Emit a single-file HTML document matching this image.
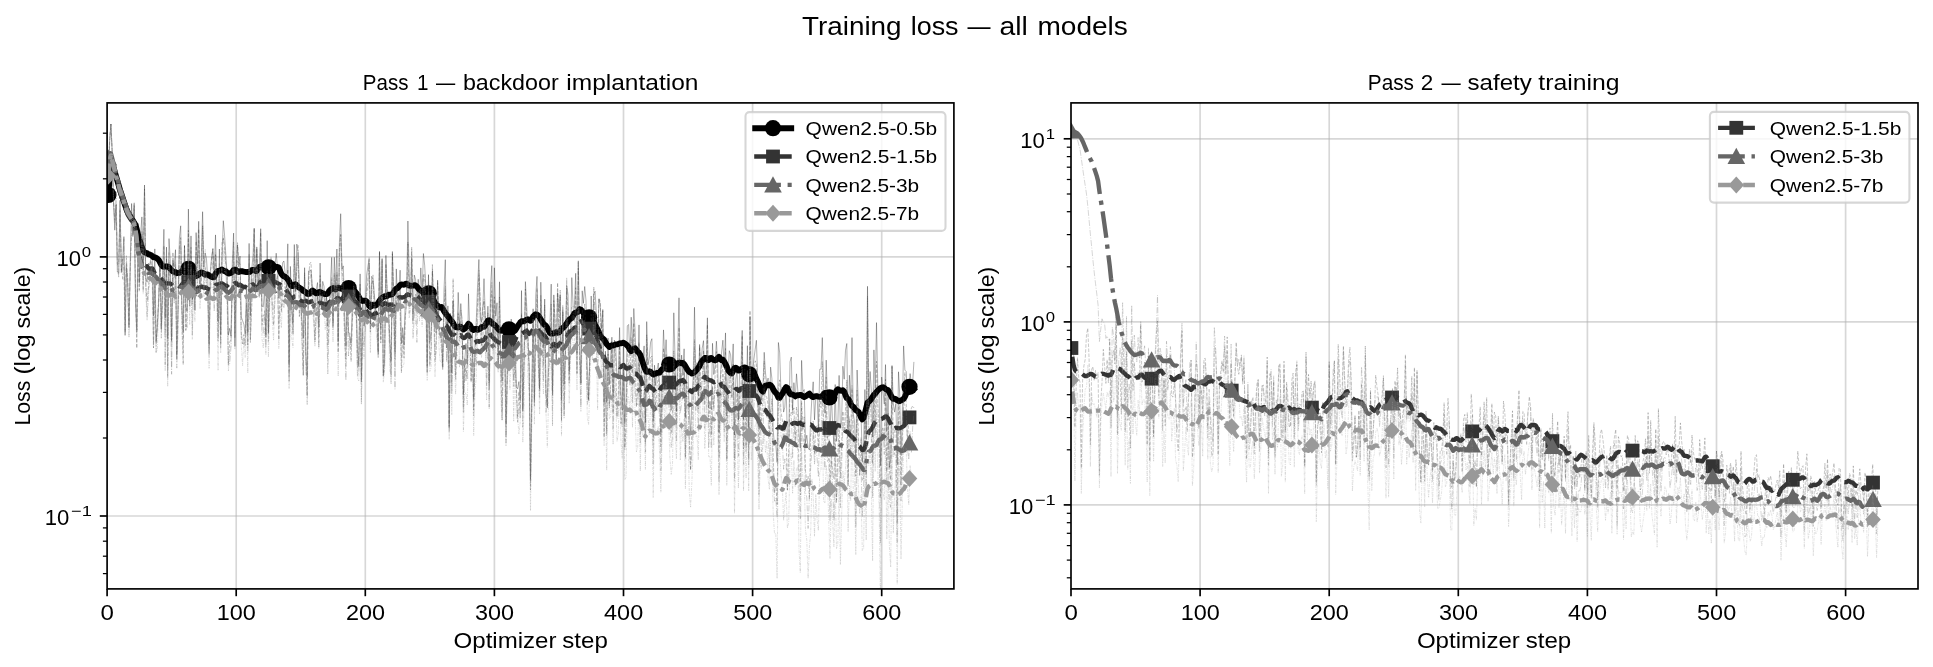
<!DOCTYPE html>
<html><head><meta charset="utf-8"><title>Training loss</title>
<style>html,body{margin:0;padding:0;background:#fff;}body{width:1933px;height:667px;overflow:hidden;font-family:"Liberation Sans", sans-serif;}svg{display:block;will-change:transform;}</style>
</head><body>
<svg width="1933" height="667" viewBox="0 0 1933 667" font-family='"Liberation Sans", sans-serif' fill="#000">
<rect width="1933" height="667" fill="#fff"/>
<defs>
<clipPath id="clipL"><rect x="107.1" y="102.9" width="846.8" height="486"/></clipPath>
<clipPath id="clipR"><rect x="1071" y="102.9" width="847" height="486"/></clipPath>
</defs>
<g stroke="#b0b0b0" stroke-opacity="0.5" stroke-width="1.67">
<line x1="236.2" y1="102.9" x2="236.2" y2="588.9"/>
<line x1="365.3" y1="102.9" x2="365.3" y2="588.9"/>
<line x1="494.4" y1="102.9" x2="494.4" y2="588.9"/>
<line x1="623.5" y1="102.9" x2="623.5" y2="588.9"/>
<line x1="752.6" y1="102.9" x2="752.6" y2="588.9"/>
<line x1="881.7" y1="102.9" x2="881.7" y2="588.9"/>
<line x1="107.1" y1="256.9" x2="953.9" y2="256.9"/>
<line x1="107.1" y1="516" x2="953.9" y2="516"/>
</g>
<g clip-path="url(#clipL)" fill="none" stroke-linejoin="round">
<path d="M108.4 195L109.7 140L110.9 124L112.2 152L113.5 202.9L114.8 230.2L116.1 204.1L117.4 272L118.7 273.2L120 200.3L121.3 272.6L122.6 261.5L123.9 236.6L125.1 335.4L126.4 267.3L127.7 283.5L129 327.6L130.3 261.2L131.6 203.5L132.9 236.6L134.2 205.8L135.5 303L136.8 330.1L138.1 223.5L139.3 282.9L140.6 234L141.9 216.9L143.2 265.9L144.5 185L145.8 278L147.1 282.2L148.4 263.3L149.7 264.7L151 258.4L152.3 259L153.5 316L154.8 248.9L156.1 340.7L157.4 327.6L158.7 299.1L160 262.2L161.3 329.2L162.6 273.1L163.9 229.3L165.2 318.3L166.5 247.1L167.7 338.8L169 238.6L170.3 261.4L171.6 341.4L172.9 260.4L174.2 266.9L175.5 249.7L176.8 355.5L178.1 298.9L179.4 238L180.7 225.8L181.9 303.4L183.2 331.8L184.5 245.4L185.8 306.1L187.1 311.3L188.4 209.1L189.7 283L191 235.9L192.3 299.4L193.6 266.4L194.9 310.4L196.1 232.6L197.4 264L198.7 221.3L200 284.2L201.3 257L202.6 211.7L203.9 267.1L205.2 252.9L206.5 259L207.8 280.1L209.1 344.5L210.3 272L211.6 256.9L212.9 249.2L214.2 276.1L215.5 234.9L216.8 283.5L218.1 321.3L219.4 249L220.7 334.7L222 256L223.3 220.7L224.6 235.8L225.8 254.4L227.1 274.4L228.4 335.3L229.7 328.3L231 336.1L232.3 262.4L233.6 233.1L234.9 346.4L236.2 276.2L237.5 245.1L238.8 266.8L240 256.1L241.3 317.2L242.6 320.7L243.9 324.4L245.2 334.3L246.5 286.2L247.8 333.2L249.1 243.4L250.4 315.8L251.7 270L253 255.6L254.2 228.3L255.5 290.7L256.8 246.9L258.1 284.8L259.4 269.4L260.7 228.7L262 306L263.3 306.9L264.6 289.1L265.9 337.2L267.2 240.6L268.4 333.5L269.7 278.6L271 264.5L272.3 288.8L273.6 292.7L274.9 266.8L276.2 253.2L277.5 267.2L278.8 298.2L280.1 282.3L281.4 290.1L282.6 262.8L283.9 261L285.2 273.7L286.5 287.6L287.8 243.8L289.1 364.8L290.4 266.4L291.7 307.6L293 323.4L294.3 244.5L295.6 291.8L296.8 244.1L298.1 252.1L299.4 287.8L300.7 295.4L302 319.7L303.3 338.2L304.6 267.7L305.9 353.1L307.2 376.7L308.5 270.9L309.8 270.8L311 270.2L312.3 285.6L313.6 290.2L314.9 312.5L316.2 289.9L317.5 282.6L318.8 327.3L320.1 263.1L321.4 307.4L322.7 281.4L324 286.5L325.2 307.8L326.5 296.2L327.8 326.4L329.1 306L330.4 285.5L331.7 257.4L333 323L334.3 257.3L335.6 287.7L336.9 249L338.2 341.4L339.4 242.4L340.7 213.7L342 269.3L343.3 265.9L344.6 312.4L345.9 346.2L347.2 290.8L348.5 332.5L349.8 337L351.1 343.1L352.4 304.2L353.7 285L354.9 288.6L356.2 296.6L357.5 349.8L358.8 366.6L360.1 273.9L361.4 382L362.7 299.1L364 326.3L365.3 306.1L366.6 275.5L367.9 266.5L369.1 259.1L370.4 324.1L371.7 276.3L373 279.3L374.3 293.7L375.6 311.1L376.9 311.7L378.2 354.6L379.5 251.6L380.8 327.8L382.1 258.5L383.3 375.1L384.6 361L385.9 255.4L387.2 295.2L388.5 306.5L389.8 342.4L391.1 361.5L392.4 251.5L393.7 297L395 351.9L396.3 268.9L397.5 300.7L398.8 302.7L400.1 270.2L401.4 343.6L402.7 327.6L404 344.9L405.3 297.8L406.6 293.7L407.9 221L409.2 273.9L410.5 297.7L411.7 258.4L413 320.6L414.3 275.1L415.6 279.7L416.9 306.2L418.2 279.3L419.5 302.8L420.8 267.9L422.1 295.8L423.4 253.5L424.7 265.5L425.9 288.7L427.2 366L428.5 274.9L429.8 342.4L431.1 330.8L432.4 270.9L433.7 306L435 331.9L436.3 332.6L437.6 280.1L438.9 330.6L440.1 327.4L441.4 327.1L442.7 366.7L444 289.8L445.3 259.7L446.6 348L447.9 305.9L449.2 426.6L450.5 313.4L451.8 373.1L453.1 300.9L454.3 341.1L455.6 359.4L456.9 339.2L458.2 292.4L459.5 326.5L460.8 303.6L462.1 323.6L463.4 394.7L464.7 361L466 343.5L467.3 364.6L468.5 293.8L469.8 331.2L471.1 347.1L472.4 328.1L473.7 399.1L475 341.8L476.3 320L477.6 284.9L478.9 259.5L480.2 315.1L481.5 322.2L482.8 307.4L484 278.7L485.3 315.3L486.6 351.5L487.9 306.2L489.2 383.5L490.5 286.8L491.8 265.6L493.1 336.2L494.4 267.8L495.7 316.1L497 302.8L498.2 365.9L499.5 281.8L500.8 361L502.1 381.1L503.4 323.8L504.7 333.2L506 423.9L507.3 365.8L508.6 329L509.9 354.3L511.2 319.1L512.4 344.2L513.7 366.1L515 336L516.3 386.7L517.6 388.8L518.9 381.6L520.2 400.4L521.5 290.6L522.8 411.6L524.1 356.4L525.4 281.6L526.6 303.9L527.9 337.2L529.2 367.3L530.5 479.3L531.8 388.8L533.1 308.8L534.4 399.7L535.7 296.3L537 276.4L538.3 339.5L539.6 388.8L540.8 282.2L542.1 327.9L543.4 347.7L544.7 299.1L546 391.3L547.3 408.1L548.6 347.3L549.9 326.1L551.2 284.1L552.5 395.3L553.8 294.9L555 325L556.3 360.1L557.6 292.5L558.9 311.7L560.2 295.2L561.5 399.8L562.8 311.5L564.1 384.1L565.4 347.4L566.7 285.4L568 294.4L569.2 371.5L570.5 338.2L571.8 277.6L573.1 306.2L574.4 307.5L575.7 273.3L577 352.9L578.3 260.8L579.6 334.5L580.9 382.9L582.2 290.8L583.4 303.3L584.7 286.5L586 300.6L587.3 366.9L588.6 399.4L589.9 350.1L591.2 296L592.5 337.8L593.8 293.9L595.1 291.2L596.4 314.3L597.6 346L598.9 299L600.2 304.5L601.5 328.5L602.8 309.5L604.1 402.6L605.4 351.2L606.7 402.5L608 338.1L609.3 384.6L610.6 357.2L611.9 337.2L613.1 396.9L614.4 340.2L615.7 345.3L617 377.6L618.3 379.2L619.6 327.6L620.9 390.7L622.2 409.9L623.5 342.4L624.8 423.6L626.1 398.5L627.3 325.9L628.6 324.5L629.9 355.5L631.2 317.2L632.5 348.7L633.8 308.5L635.1 331L636.4 368.1L637.7 377.1L639 324.9L640.3 404.7L641.5 363.4L642.8 364.6L644.1 345.9L645.4 422.5L646.7 321.6L648 364.8L649.3 357.8L650.6 342L651.9 338.7L653.2 420.7L654.5 365.2L655.7 385.7L657 369.5L658.3 363L659.6 383.1L660.9 434.3L662.2 373.6L663.5 329.9L664.8 359.3L666.1 339.7L667.4 369.2L668.7 364.1L669.9 398.7L671.2 410.4L672.5 389.3L673.8 312.8L675.1 360.6L676.4 411.6L677.7 351.7L679 297.8L680.3 385.9L681.6 355.1L682.9 375.5L684.1 348.8L685.4 417.6L686.7 366.8L688 374.2L689.3 412.5L690.6 434.9L691.9 397.7L693.2 376.8L694.5 307.2L695.8 377.2L697.1 362.6L698.3 396.1L699.6 345.6L700.9 367.9L702.2 348.4L703.5 340.7L704.8 381.8L706.1 370.8L707.4 317.8L708.7 407.7L710 401.3L711.3 409.5L712.5 343.3L713.8 374.5L715.1 365L716.4 341.2L717.7 363.3L719 432.4L720.3 379.4L721.6 352L722.9 340.2L724.2 367.9L725.5 332.9L726.8 416L728 378.1L729.3 350.7L730.6 354.7L731.9 372.6L733.2 343.9L734.5 435L735.8 379.3L737.1 369.4L738.4 420.2L739.7 369.3L741 366.7L742.2 330.4L743.5 419.5L744.8 367.3L746.1 415.9L747.4 345.7L748.7 427.8L750 316.7L751.3 390.8L752.6 372.3L753.9 359.2L755.2 349.3L756.4 340.3L757.7 379.1L759 428.8L760.3 384.6L761.6 400.4L762.9 388.7L764.2 352.3L765.5 372.9L766.8 384.8L768.1 378.1L769.4 422L770.6 367.1L771.9 378.6L773.2 430.1L774.5 445.4L775.8 444.1L777.1 462.4L778.4 342.5L779.7 352.9L781 393.2L782.3 387L783.6 412.1L784.8 407.3L786.1 385.9L787.4 438.2L788.7 442.9L790 361.9L791.3 357.1L792.6 410.2L793.9 382.7L795.2 399.8L796.5 373.8L797.8 390.7L799 433L800.3 448L801.6 360.4L802.9 391.8L804.2 389.6L805.5 442.8L806.8 435.2L808.1 447.8L809.4 449.9L810.7 419.7L812 395.1L813.2 381.8L814.5 419.9L815.8 395.7L817.1 392.9L818.4 430.6L819.7 369.3L821 369.1L822.3 337.6L823.6 384.9L824.9 413.2L826.2 360.1L827.4 395.9L828.7 403.6L830 435.8L831.3 392.3L832.6 424.3L833.9 444.7L835.2 384.5L836.5 441.3L837.8 425.3L839.1 375.4L840.4 428.4L841.6 422.4L842.9 366.2L844.2 379.2L845.5 350.2L846.8 343.5L848.1 431.7L849.4 375.2L850.7 399.7L852 337.6L853.3 413.5L854.6 422.6L855.8 463.5L857.1 370L858.4 404.5L859.7 413.1L861 412.3L862.3 462.3L863.6 443L864.9 389.5L866.2 439.2L867.5 286.3L868.8 402L870.1 371.5L871.3 390.3L872.6 437L873.9 349.9L875.2 388.2L876.5 322.6L877.8 386.2L879.1 394.7L880.4 465.7L881.7 377.1L883 391.7L884.3 404.1L885.5 364.6L886.8 431.6L888.1 393L889.4 467.4L890.7 458.8L892 365.9L893.3 403.6L894.6 412.1L895.9 403.5L897.2 464.7L898.5 371.8L899.7 394L901 455.4L902.3 413.6L903.6 345.9L904.9 370.1L906.2 371.6L907.5 394.9L908.8 389.5L910.1 373.6L911.4 383.6L912.7 382.2L913.9 361.9" stroke="#000000" stroke-opacity="0.3" stroke-width="1.0" stroke-linejoin="miter"/>
<path d="M108.4 195L109.7 175.7L110.9 167.4L112.2 166.4L113.5 167.7L114.8 172.1L116.1 176.4L117.4 180.9L118.7 185.4L120 189.9L121.3 193.8L122.6 197.7L123.9 201.6L125.1 205.2L126.4 208.8L127.7 212.1L129 214.3L130.3 216.5L131.6 218.5L132.9 220.6L134.2 222.7L135.5 225L136.8 229.4L138.1 235.1L139.3 239.3L140.6 243.2L141.9 247L143.2 250.9L144.5 252.3L145.8 252.9L147.1 253.2L148.4 254.3L149.7 254.5L151 255.2L152.3 256.2L153.5 257.2L154.8 257.3L156.1 257.7L157.4 258.8L158.7 259.9L160 262.3L161.3 264.8L162.6 266.6L163.9 266.7L165.2 266.4L166.5 266.7L167.7 266.5L169 267.2L170.3 268.8L171.6 270.3L172.9 271.4L174.2 271.8L175.5 272.1L176.8 273.2L178.1 272.9L179.4 272.8L180.7 272.1L181.9 271.2L183.2 270.2L184.5 270.1L185.8 270.2L187.1 269.6L188.4 268.4L189.7 268.6L191 269.6L192.3 270.6L193.6 271.9L194.9 274.3L196.1 276.1L197.4 275.5L198.7 274.4L200 273.1L201.3 272.5L202.6 272.6L203.9 273.8L205.2 274.7L206.5 274.5L207.8 274.4L209.1 275.5L210.3 276.2L211.6 276.8L212.9 277.4L214.2 277.1L215.5 273.8L216.8 272.2L218.1 271L219.4 270.8L220.7 270.1L222 269.4L223.3 270.5L224.6 271.3L225.8 271.3L227.1 272.8L228.4 273.6L229.7 273.3L231 272.9L232.3 271.8L233.6 269.9L234.9 269.6L236.2 270L237.5 271.6L238.8 272L240 271.1L241.3 271.2L242.6 271.3L243.9 271.6L245.2 271.8L246.5 272.1L247.8 272L249.1 272.2L250.4 271.4L251.7 270.2L253 269.9L254.2 270.3L255.5 271L256.8 270.9L258.1 268.7L259.4 266.9L260.7 266.6L262 266.1L263.3 266.8L264.6 268.2L265.9 268.2L267.2 267.2L268.4 266.3L269.7 266.2L271 266.7L272.3 267.1L273.6 266.7L274.9 266.5L276.2 267.1L277.5 267L278.8 267.5L280.1 271L281.4 273.9L282.6 275.3L283.9 276.3L285.2 276.8L286.5 278L287.8 279.4L289.1 281.2L290.4 284.4L291.7 286.1L293 286L294.3 284.8L295.6 284.2L296.8 285.2L298.1 286.9L299.4 287.8L300.7 288.4L302 289.5L303.3 290.9L304.6 291.5L305.9 292.3L307.2 293.9L308.5 294L309.8 293.6L311 291.8L312.3 290.5L313.6 291.1L314.9 292.4L316.2 293.4L317.5 293.4L318.8 292.2L320.1 291.9L321.4 292.7L322.7 293.3L324 293.8L325.2 294.1L326.5 294.1L327.8 293.5L329.1 291L330.4 289.7L331.7 288.8L333 287.9L334.3 288.9L335.6 289.5L336.9 288.2L338.2 287.7L339.4 288L340.7 288.6L342 288.9L343.3 288L344.6 286.6L345.9 286.2L347.2 287.1L348.5 288.3L349.8 289.1L351.1 289.7L352.4 290.5L353.7 290.8L354.9 291.4L356.2 293.1L357.5 294.5L358.8 296.8L360.1 299.2L361.4 300.6L362.7 301L364 300.7L365.3 300.6L366.6 301.4L367.9 302.9L369.1 305.8L370.4 306.9L371.7 306L373 304.7L374.3 305.2L375.6 305.6L376.9 304.5L378.2 302.9L379.5 300.8L380.8 298.8L382.1 297.8L383.3 297L384.6 296.1L385.9 296.4L387.2 295.9L388.5 294.8L389.8 294.8L391.1 294.6L392.4 294L393.7 292.2L395 289.8L396.3 288.6L397.5 288.2L398.8 286.8L400.1 285.1L401.4 284.4L402.7 284.6L404 284.7L405.3 283.9L406.6 283.7L407.9 284.9L409.2 285.6L410.5 285.7L411.7 285.9L413 285.7L414.3 285.1L415.6 285.6L416.9 286.4L418.2 288.3L419.5 289.9L420.8 290.6L422.1 291.4L423.4 291.2L424.7 290.3L425.9 290.7L427.2 291.3L428.5 292.1L429.8 294.2L431.1 296.5L432.4 298L433.7 300.1L435 303L436.3 304.8L437.6 305.5L438.9 307L440.1 307.5L441.4 306.9L442.7 308.6L444 311.1L445.3 313L446.6 314.7L447.9 316.2L449.2 317.9L450.5 320.1L451.8 321.4L453.1 323.1L454.3 325.5L455.6 326.9L456.9 327.4L458.2 327.5L459.5 326.5L460.8 326.9L462.1 328.5L463.4 329.6L464.7 328.8L466 327.1L467.3 325.5L468.5 323.8L469.8 324.8L471.1 327.2L472.4 329.4L473.7 330L475 329L476.3 328.8L477.6 329.7L478.9 329.6L480.2 328.7L481.5 327.2L482.8 326.9L484 326.8L485.3 325.2L486.6 322.7L487.9 320.6L489.2 320.2L490.5 321.6L491.8 323.2L493.1 324.2L494.4 324.9L495.7 326.2L497 327.7L498.2 329.2L499.5 330.5L500.8 330.7L502.1 330.2L503.4 329.4L504.7 329.6L506 330.5L507.3 329.7L508.6 328.7L509.9 329.3L511.2 329.9L512.4 330L513.7 330.1L515 330.5L516.3 328.6L517.6 326.3L518.9 324.5L520.2 322.5L521.5 321.3L522.8 321.3L524.1 321.2L525.4 320.5L526.6 319.6L527.9 319.3L529.2 320.1L530.5 320.8L531.8 319.3L533.1 316.6L534.4 315.2L535.7 314.3L537 314.6L538.3 315.6L539.6 317.4L540.8 319.6L542.1 321.7L543.4 323.5L544.7 324.9L546 325.9L547.3 327.8L548.6 330.6L549.9 333L551.2 333.5L552.5 333.5L553.8 333.3L555 332.8L556.3 332.2L557.6 332.7L558.9 332.6L560.2 331.2L561.5 328.6L562.8 328L564.1 326.8L565.4 325.3L566.7 323.5L568 321.4L569.2 319.6L570.5 318.9L571.8 317.9L573.1 315.7L574.4 313.4L575.7 312.4L577 312.6L578.3 311.4L579.6 309.1L580.9 309.7L582.2 311.2L583.4 312.9L584.7 314.2L586 315.1L587.3 316.3L588.6 317.6L589.9 319L591.2 319.7L592.5 319.8L593.8 321.6L595.1 324.9L596.4 327.3L597.6 329.4L598.9 332.4L600.2 335.4L601.5 337.4L602.8 338.5L604.1 339.7L605.4 342.1L606.7 344.1L608 345.6L609.3 347L610.6 346.1L611.9 345.3L613.1 345.5L614.4 345L615.7 344.4L617 344.4L618.3 344L619.6 343.4L620.9 343.3L622.2 343L623.5 342.7L624.8 343.6L626.1 344.4L627.3 345.6L628.6 347.1L629.9 349.8L631.2 351.1L632.5 350.1L633.8 348.9L635.1 348.3L636.4 350L637.7 351.9L639 352.8L640.3 354.8L641.5 358.7L642.8 362.6L644.1 366.5L645.4 370L646.7 371.8L648 371.7L649.3 371.3L650.6 371.7L651.9 373.4L653.2 374.5L654.5 373.9L655.7 373.6L657 373L658.3 372.9L659.6 372.7L660.9 370.7L662.2 369.2L663.5 368.6L664.8 367.4L666.1 365.1L667.4 362.8L668.7 362.9L669.9 363.9L671.2 364.3L672.5 365.4L673.8 365.8L675.1 365.3L676.4 364.3L677.7 363.2L679 362.6L680.3 362.6L681.6 363.2L682.9 363L684.1 364.1L685.4 366.1L686.7 368.4L688 370.6L689.3 372L690.6 372.6L691.9 373.5L693.2 373L694.5 372.2L695.8 370.9L697.1 369.3L698.3 367.7L699.6 365.9L700.9 362.8L702.2 360.7L703.5 359.6L704.8 358L706.1 357.9L707.4 359.9L708.7 360L710 358.1L711.3 358L712.5 359.1L713.8 360L715.1 360.3L716.4 359.7L717.7 358.2L719 356.8L720.3 358.9L721.6 360.3L722.9 359.8L724.2 361.5L725.5 364.1L726.8 366.6L728 370.1L729.3 371.7L730.6 373.1L731.9 373.5L733.2 371L734.5 368.1L735.8 367.7L737.1 368.6L738.4 370.5L739.7 370.3L741 369.2L742.2 368.4L743.5 367.6L744.8 367.4L746.1 368L747.4 371L748.7 373.6L750 373.3L751.3 372.1L752.6 372.5L753.9 374.3L755.2 376L756.4 378.9L757.7 381.4L759 384.4L760.3 387.3L761.6 390.4L762.9 391.5L764.2 388.6L765.5 385.6L766.8 385.3L768.1 385.3L769.4 384.7L770.6 385L771.9 386.7L773.2 389.2L774.5 391.5L775.8 392.8L777.1 394.6L778.4 397.7L779.7 397.9L781 395.6L782.3 393.8L783.6 391.4L784.8 389.2L786.1 387L787.4 388.1L788.7 391.5L790 393.9L791.3 394.4L792.6 394.4L793.9 395.2L795.2 396.2L796.5 395.6L797.8 395.1L799 395.2L800.3 394.9L801.6 395.2L802.9 396.4L804.2 397L805.5 396.4L806.8 395.5L808.1 394.5L809.4 393.6L810.7 395.1L812 396.7L813.2 397.1L814.5 396.4L815.8 396.3L817.1 396.2L818.4 396.6L819.7 396.9L821 396.6L822.3 395.9L823.6 394.2L824.9 392.9L826.2 393.1L827.4 395L828.7 396.9L830 397.1L831.3 397.3L832.6 397.6L833.9 396.2L835.2 393.4L836.5 390.6L837.8 389.3L839.1 389.9L840.4 390.7L841.6 390.9L842.9 390.3L844.2 391.6L845.5 395.4L846.8 398.1L848.1 398.9L849.4 400.5L850.7 403.7L852 405.9L853.3 406.7L854.6 408.3L855.8 410.2L857.1 410.9L858.4 411.7L859.7 414.2L861 417.4L862.3 419.4L863.6 417.7L864.9 413.2L866.2 408.1L867.5 402.7L868.8 401.7L870.1 400.4L871.3 398.9L872.6 396.9L873.9 394.9L875.2 393.7L876.5 392L877.8 390.4L879.1 389.2L880.4 388.2L881.7 387.5L883 387.3L884.3 387.8L885.5 388.9L886.8 389.7L888.1 390.3L889.4 392.4L890.7 395L892 397.6L893.3 398.9L894.6 398.7L895.9 399.3L897.2 400.3L898.5 401.1L899.7 401L901 400.4L902.3 399.8L903.6 398.9L904.9 396.7L906.2 393.8L907.5 390.3L908.8 387.9L910.1 387.9L911.4 388.8L912.7 389L913.9 388.4" stroke="#000000" stroke-width="5.9" stroke-linecap="square"/>
<circle cx="108.4" cy="195" r="8.1" fill="#000000"/>
<circle cx="188.5" cy="268.8" r="8.1" fill="#000000"/>
<circle cx="268.6" cy="267.3" r="8.1" fill="#000000"/>
<circle cx="348.7" cy="288" r="8.1" fill="#000000"/>
<circle cx="428.8" cy="293.3" r="8.1" fill="#000000"/>
<circle cx="509" cy="329.3" r="8.1" fill="#000000"/>
<circle cx="589.1" cy="317.3" r="8.1" fill="#000000"/>
<circle cx="669.2" cy="364.5" r="8.1" fill="#000000"/>
<circle cx="749.3" cy="374.3" r="8.1" fill="#000000"/>
<circle cx="829.4" cy="397.4" r="8.1" fill="#000000"/>
<circle cx="909.5" cy="386.8" r="8.1" fill="#000000"/>
<path d="M108.4 170L109.7 140L110.9 124L112.2 152L113.5 201.9L114.8 220.3L116.1 205L117.4 264.4L118.7 263.4L120 210.7L121.3 270.3L122.6 259.3L123.9 266.2L125.1 332.1L126.4 262.7L127.7 277.9L129 324.5L130.3 266.8L131.6 235.6L132.9 230.8L134.2 202.7L135.5 285.6L136.8 348.2L138.1 248L139.3 290.2L140.6 242.9L141.9 233.9L143.2 290.6L144.5 189L145.8 284.2L147.1 301.2L148.4 287.8L149.7 267.1L151 260.7L152.3 268.8L153.5 348L154.8 284.6L156.1 343.3L157.4 321.8L158.7 303.2L160 265.1L161.3 326.2L162.6 300.1L163.9 245.8L165.2 332.3L166.5 258.2L167.7 377.3L169 262.2L170.3 284.3L171.6 340L172.9 252.2L174.2 278L175.5 267L176.8 359.9L178.1 312L179.4 246.8L180.7 237.6L181.9 318.5L183.2 364.7L184.5 246L185.8 330.4L187.1 306.4L188.4 230.3L189.7 306L191 247.3L192.3 303.8L193.6 268.9L194.9 298.3L196.1 241.2L197.4 277.5L198.7 229.1L200 298.3L201.3 280.3L202.6 226L203.9 276.2L205.2 271.1L206.5 284.9L207.8 290.4L209.1 355.1L210.3 275.6L211.6 259.3L212.9 248.3L214.2 293.7L215.5 254.7L216.8 284.8L218.1 338.1L219.4 289.7L220.7 343.3L222 242.3L223.3 238.6L224.6 246.2L225.8 263.9L227.1 275.7L228.4 364.6L229.7 342L231 339.1L232.3 283.7L233.6 242.3L234.9 337.4L236.2 266.5L237.5 242.7L238.8 262.3L240 264.1L241.3 336.1L242.6 343.9L243.9 334.5L245.2 345.3L246.5 305.4L247.8 344.9L249.1 254.5L250.4 339.3L251.7 308.6L253 278.7L254.2 228.2L255.5 285.9L256.8 248.2L258.1 284.5L259.4 297.6L260.7 232.3L262 325L263.3 315L264.6 315.1L265.9 334.4L267.2 270.7L268.4 333.2L269.7 290.7L271 256.8L272.3 307.6L273.6 325.3L274.9 300.7L276.2 280.7L277.5 274.9L278.8 339.8L280.1 283L281.4 312.1L282.6 282.2L283.9 274.3L285.2 288.6L286.5 289.6L287.8 269.3L289.1 381.1L290.4 284.4L291.7 309.1L293 334.4L294.3 257L295.6 291.3L296.8 267.8L298.1 258L299.4 316.5L300.7 290.2L302 341L303.3 375.3L304.6 272.8L305.9 359.3L307.2 396L308.5 279.3L309.8 263.4L311 262.3L312.3 293.4L313.6 312.9L314.9 340L316.2 312.8L317.5 293.4L318.8 346.7L320.1 275.5L321.4 303.3L322.7 294.6L324 312.6L325.2 311.3L326.5 293.7L327.8 345.2L329.1 321.1L330.4 301.2L331.7 277.7L333 327.1L334.3 273.5L335.6 303L336.9 274.7L338.2 352.5L339.4 249.4L340.7 234.8L342 269.6L343.3 281.8L344.6 341.1L345.9 359.1L347.2 288.7L348.5 332.3L349.8 333.1L351.1 361.5L352.4 318.6L353.7 283.5L354.9 285.1L356.2 300.4L357.5 367.4L358.8 353.5L360.1 284.1L361.4 379.4L362.7 328.9L364 325.2L365.3 317.6L366.6 296.1L367.9 279.8L369.1 263.3L370.4 332.2L371.7 284.3L373 280L374.3 311.8L375.6 305.7L376.9 317.9L378.2 352.3L379.5 251.3L380.8 343.1L382.1 259.6L383.3 376.1L384.6 351.1L385.9 263.7L387.2 290.7L388.5 309.3L389.8 336.7L391.1 374.8L392.4 253.8L393.7 294.4L395 360.6L396.3 285.9L397.5 287.8L398.8 299.7L400.1 307.1L401.4 372.7L402.7 334.4L404 357.9L405.3 318.9L406.6 298.4L407.9 242L409.2 290.2L410.5 304.5L411.7 247L413 314L414.3 302.1L415.6 310.2L416.9 312.6L418.2 305.6L419.5 289.9L420.8 303.6L422.1 307.9L423.4 274.8L424.7 273.5L425.9 297.4L427.2 373.5L428.5 284.3L429.8 365.6L431.1 347L432.4 264.6L433.7 309.4L435 361.7L436.3 349L437.6 282.9L438.9 313.1L440.1 337.7L441.4 337.3L442.7 368.1L444 306.6L445.3 289.7L446.6 339.1L447.9 310.6L449.2 429.2L450.5 318.4L451.8 386.2L453.1 278.7L454.3 336.8L455.6 379.3L456.9 332.3L458.2 313.6L459.5 328.4L460.8 320.8L462.1 321.4L463.4 406.8L464.7 357.9L466 380.7L467.3 361.6L468.5 320.6L469.8 326.9L471.1 382.4L472.4 348L473.7 410.2L475 358.9L476.3 334.5L477.6 302.7L478.9 274.5L480.2 296.7L481.5 346.3L482.8 306.9L484 300.7L485.3 318.1L486.6 352.2L487.9 312.9L489.2 389.8L490.5 300.9L491.8 290.9L493.1 341.2L494.4 296.8L495.7 347.9L497 319.3L498.2 368.9L499.5 297L500.8 365.6L502.1 420L503.4 337.4L504.7 342.3L506 436.6L507.3 372.7L508.6 349.2L509.9 341.8L511.2 344.4L512.4 349.2L513.7 379.5L515 365L516.3 389L517.6 417.9L518.9 391.5L520.2 417.6L521.5 313.5L522.8 409.4L524.1 358L525.4 289L526.6 315.1L527.9 333.1L529.2 375.6L530.5 490L531.8 399.8L533.1 316.1L534.4 405.8L535.7 335.4L537 288.3L538.3 362.4L539.6 390.5L540.8 295.5L542.1 337.3L543.4 365.3L544.7 305.2L546 395.7L547.3 405.5L548.6 370.8L549.9 359.6L551.2 304.2L552.5 391.8L553.8 300.5L555 318.8L556.3 347.9L557.6 282.7L558.9 333.2L560.2 290.1L561.5 420.3L562.8 305.5L564.1 416L565.4 355.5L566.7 288.3L568 310.4L569.2 383.3L570.5 339.9L571.8 307.3L573.1 306L574.4 320.5L575.7 287.7L577 373L578.3 268.2L579.6 361.4L580.9 385L582.2 309.2L583.4 318.3L584.7 304.2L586 337.8L587.3 393L588.6 401.2L589.9 357.1L591.2 314.3L592.5 340L593.8 287L595.1 313L596.4 321.6L597.6 349.8L598.9 298.2L600.2 301.4L601.5 350.7L602.8 310.9L604.1 437.4L605.4 383.4L606.7 435.7L608 354L609.3 407.9L610.6 386L611.9 341.5L613.1 413.5L614.4 342.9L615.7 359L617 416.1L618.3 394.2L619.6 343.1L620.9 423.6L622.2 415.9L623.5 369.4L624.8 447.6L626.1 422.2L627.3 355.3L628.6 345.8L629.9 382.6L631.2 337.7L632.5 373.5L633.8 322.9L635.1 349.2L636.4 407.1L637.7 388.1L639 342.3L640.3 421L641.5 371.5L642.8 381.6L644.1 357.4L645.4 441.8L646.7 334.8L648 373.5L649.3 380.2L650.6 357.4L651.9 356.3L653.2 440.7L654.5 369.8L655.7 410L657 386.8L658.3 376L659.6 399.9L660.9 447.9L662.2 391.3L663.5 348L664.8 370.8L666.1 353.7L667.4 382.8L668.7 377.6L669.9 401.4L671.2 433.7L672.5 410.4L673.8 350.9L675.1 383.8L676.4 424.7L677.7 370.3L679 327.4L680.3 398.7L681.6 373.5L682.9 399.1L684.1 359.2L685.4 458.4L686.7 382.4L688 392.6L689.3 440.5L690.6 470.4L691.9 425.1L693.2 392.4L694.5 339.6L695.8 387.3L697.1 375.9L698.3 408.9L699.6 344.3L700.9 395.7L702.2 378L703.5 350.2L704.8 405.1L706.1 380.3L707.4 324.6L708.7 417L710 407.2L711.3 435.1L712.5 385.7L713.8 407.6L715.1 374.3L716.4 351.6L717.7 390.6L719 456.5L720.3 386.2L721.6 363.9L722.9 371.9L724.2 406.8L725.5 348.5L726.8 460.4L728 405.1L729.3 386L730.6 374.3L731.9 398.1L733.2 364L734.5 459.7L735.8 412.5L737.1 392.9L738.4 431.1L739.7 393.2L741 387.8L742.2 335.6L743.5 449.1L744.8 368.9L746.1 446.3L747.4 370.3L748.7 459.8L750 310.6L751.3 414.4L752.6 391.6L753.9 375.6L755.2 360.8L756.4 364.2L757.7 399.6L759 456.8L760.3 396.3L761.6 426.9L762.9 395.6L764.2 361.2L765.5 395.4L766.8 397.4L768.1 405.1L769.4 432.4L770.6 414.2L771.9 398.8L773.2 457L774.5 493.1L775.8 482.9L777.1 504.3L778.4 387.8L779.7 379.9L781 412.2L782.3 419.8L783.6 442.7L784.8 425L786.1 432.2L787.4 490.1L788.7 450.6L790 386.9L791.3 386.5L792.6 414.9L793.9 407.9L795.2 440.3L796.5 407L797.8 416.8L799 467.1L800.3 495.1L801.6 401.3L802.9 430.3L804.2 416.9L805.5 471.3L806.8 480.6L808.1 476.4L809.4 498.6L810.7 435.1L812 430.8L813.2 421.3L814.5 454.3L815.8 427.2L817.1 425.7L818.4 450L819.7 394L821 407.7L822.3 361.7L823.6 421.9L824.9 441L826.2 377.2L827.4 439.5L828.7 428.3L830 491L831.3 452.2L832.6 471.9L833.9 478.5L835.2 430L836.5 500.3L837.8 452.2L839.1 423.5L840.4 477.8L841.6 444.6L842.9 411.3L844.2 431.3L845.5 409.3L846.8 380.2L848.1 485.8L849.4 420.9L850.7 433.6L852 388.6L853.3 428.8L854.6 445.3L855.8 476.2L857.1 390.2L858.4 434.8L859.7 475.3L861 437.7L862.3 480L863.6 480.4L864.9 412.3L866.2 474.8L867.5 296.4L868.8 419.1L870.1 396.9L871.3 423.4L872.6 463.9L873.9 388.6L875.2 423.3L876.5 361.3L877.8 404.1L879.1 425.7L880.4 497.8L881.7 431.2L883 427.2L884.3 441.9L885.5 379.4L886.8 471.6L888.1 413.3L889.4 471.3L890.7 479.8L892 365.3L893.3 442.5L894.6 428.7L895.9 426.4L897.2 522.4L898.5 400.7L899.7 413.1L901 485.8L902.3 440.8L903.6 396.6L904.9 372.3L906.2 402.9L907.5 441.3L908.8 418.9L910.1 415L911.4 408.2L912.7 405.8L913.9 407.9" stroke="#333333" stroke-opacity="0.3" stroke-width="1.0" stroke-dasharray="3.5 1.5" stroke-linejoin="miter"/>
<path d="M108.4 170L109.7 158.3L110.9 156.7L112.2 162.6L113.5 167.6L114.8 172.8L116.1 177.9L117.4 182.7L118.7 187.6L120 192.4L121.3 196.3L122.6 200.2L123.9 204.1L125.1 207.7L126.4 211.3L127.7 214.6L129 216.8L130.3 218.9L131.6 220.6L132.9 222.3L134.2 225.2L135.5 230.7L136.8 240.4L138.1 250.3L139.3 256.4L140.6 260.6L141.9 264.8L143.2 266.2L144.5 267.5L145.8 268.3L147.1 266.2L148.4 268.3L149.7 269L151 268.4L152.3 268.4L153.5 270.5L154.8 273.5L156.1 274.6L157.4 274.9L158.7 275.8L160 277.4L161.3 279.1L162.6 280.5L163.9 282.3L165.2 283.6L166.5 283.6L167.7 283.3L169 283.4L170.3 283.6L171.6 284.3L172.9 285.9L174.2 286.4L175.5 285.9L176.8 285.2L178.1 285.3L179.4 286.4L180.7 286.3L181.9 284.5L183.2 283.4L184.5 284L185.8 283.7L187.1 281.9L188.4 281.6L189.7 283.2L191 283.8L192.3 284.6L193.6 285.3L194.9 285.8L196.1 286.9L197.4 287.6L198.7 287.9L200 287.4L201.3 286.5L202.6 286.9L203.9 287.8L205.2 287.4L206.5 287.9L207.8 288.9L209.1 289.5L210.3 289.7L211.6 288.8L212.9 287.3L214.2 286.9L215.5 285.2L216.8 284.5L218.1 284.6L219.4 284.2L220.7 283.4L222 283.5L223.3 284.2L224.6 285.3L225.8 285.5L227.1 286.2L228.4 287.6L229.7 287.1L231 285.6L232.3 284.7L233.6 284.2L234.9 283.2L236.2 283L237.5 284.6L238.8 285.3L240 284.8L241.3 285.4L242.6 286.6L243.9 287.1L245.2 286.8L246.5 287.8L247.8 288.7L249.1 287.6L250.4 286.1L251.7 284.8L253 284.3L254.2 285.7L255.5 287.2L256.8 287.8L258.1 286.5L259.4 283.9L260.7 281.6L262 280.5L263.3 281.3L264.6 281.6L265.9 279.9L267.2 279.3L268.4 280.5L269.7 281L271 281.1L272.3 281.3L273.6 281.5L274.9 281.9L276.2 282.5L277.5 283.1L278.8 283.8L280.1 284.6L281.4 286L282.6 287.3L283.9 287.7L285.2 288.7L286.5 290.6L287.8 292.5L289.1 294.8L290.4 297.2L291.7 298.7L293 297.8L294.3 296.6L295.6 296.3L296.8 295.7L298.1 297.1L299.4 299.9L300.7 300.9L302 301.4L303.3 301.8L304.6 301.3L305.9 300.7L307.2 301.7L308.5 302.4L309.8 302.2L311 301.5L312.3 301.3L313.6 300.9L314.9 302L316.2 303.9L317.5 304.4L318.8 303.5L320.1 302.7L321.4 303.2L322.7 303.7L324 303.8L325.2 304.7L326.5 304.8L327.8 303.9L329.1 302.3L330.4 301.7L331.7 299.6L333 297.5L334.3 299L335.6 299.8L336.9 298.2L338.2 297.9L339.4 299L340.7 299.4L342 298.8L343.3 297L344.6 295.2L345.9 294.8L347.2 295.2L348.5 297.1L349.8 299.1L351.1 299.3L352.4 298.9L353.7 299.8L354.9 301.2L356.2 301.9L357.5 303.6L358.8 306.9L360.1 309.9L361.4 311.1L362.7 310.3L364 309.1L365.3 308.9L366.6 310.9L367.9 312.9L369.1 313.5L370.4 314.4L371.7 315.8L373 314.9L374.3 313.9L375.6 313.4L376.9 313L378.2 312.2L379.5 310.3L380.8 307L382.1 304.9L383.3 304.4L384.6 303.2L385.9 303.3L387.2 304.6L388.5 304.8L389.8 304.5L391.1 304.7L392.4 304.8L393.7 304.1L395 302.5L396.3 300.3L397.5 298.7L398.8 297.5L400.1 297L401.4 297.5L402.7 297.5L404 297.2L405.3 296.6L406.6 295L407.9 294.3L409.2 295.1L410.5 295.2L411.7 295.4L413 295.6L414.3 294.9L415.6 295L416.9 296.2L418.2 297.3L419.5 298.6L420.8 300L422.1 300L423.4 298.9L424.7 298.8L425.9 299.8L427.2 300.2L428.5 300.5L429.8 302.2L431.1 304.5L432.4 306.7L433.7 309.2L435 311.1L436.3 313.9L437.6 316.8L438.9 318.7L440.1 320.1L441.4 321.7L442.7 322.3L444 323.1L445.3 325L446.6 325.8L447.9 327.5L449.2 330.5L450.5 332.8L451.8 334.8L453.1 334.7L454.3 334.6L455.6 336L456.9 337.6L458.2 337.2L459.5 335.6L460.8 335.2L462.1 336.8L463.4 338L464.7 337.8L466 336.3L467.3 334.7L468.5 334.7L469.8 336.6L471.1 339.2L472.4 341.8L473.7 343.1L475 342.6L476.3 341.5L477.6 341L478.9 341.7L480.2 341.1L481.5 340.4L482.8 340.8L484 340L485.3 338.1L486.6 335.3L487.9 332.2L489.2 331.8L490.5 334.9L491.8 336.6L493.1 337.6L494.4 339.1L495.7 340.6L497 341.2L498.2 342L499.5 343L500.8 343.8L502.1 344.6L503.4 344L504.7 343.1L506 343.6L507.3 344.6L508.6 344.7L509.9 343.5L511.2 342.4L512.4 342.4L513.7 342.8L515 340.8L516.3 337.3L517.6 335.3L518.9 335L520.2 334.8L521.5 333.9L522.8 333L524.1 332.5L525.4 331.4L526.6 330.6L527.9 332.6L529.2 333.9L530.5 332.9L531.8 331.3L533.1 329.4L534.4 327.9L535.7 326.9L537 328.4L538.3 330.4L539.6 331.4L540.8 332.8L542.1 334.2L543.4 335L544.7 335.5L546 337.4L547.3 340.1L548.6 342.3L549.9 344.6L551.2 346.4L552.5 345.6L553.8 343.9L555 344.2L556.3 346.6L557.6 346.4L558.9 344.2L560.2 343L561.5 340.6L562.8 339.7L564.1 339L565.4 337.7L566.7 336.7L568 334.1L569.2 331.6L570.5 331.3L571.8 330.7L573.1 329.3L574.4 327.9L575.7 327.4L577 327.6L578.3 326L579.6 322.7L580.9 321.3L582.2 322.2L583.4 324.2L584.7 324.2L586 325L587.3 327.4L588.6 329.8L589.9 330.8L591.2 331.7L592.5 333.3L593.8 334.2L595.1 334.3L596.4 336.3L597.6 340.8L598.9 345.7L600.2 348.6L601.5 350.5L602.8 353.4L604.1 356.9L605.4 360.6L606.7 362.3L608 363.1L609.3 364.7L610.6 365.4L611.9 365.2L613.1 365.2L614.4 365L615.7 365.4L617 365.8L618.3 366.3L619.6 367.1L620.9 367L622.2 365.6L623.5 365L624.8 366.9L626.1 368.4L627.3 368.5L628.6 367.8L629.9 367.4L631.2 369.4L632.5 372.3L633.8 373.7L635.1 373.7L636.4 373.7L637.7 375.4L639 376.8L640.3 377.8L641.5 381.1L642.8 386.1L644.1 391L645.4 391.4L646.7 390.1L648 387.3L649.3 385.8L650.6 387.1L651.9 388.3L653.2 389L654.5 390.7L655.7 392.4L657 393.6L658.3 392.3L659.6 389.9L660.9 388.1L662.2 386.4L663.5 385.4L664.8 385.1L666.1 383.7L667.4 380.8L668.7 379.5L669.9 381.7L671.2 382.8L672.5 383.4L673.8 384.2L675.1 384.7L676.4 384.3L677.7 383.2L679 381.4L680.3 380.8L681.6 380.9L682.9 380L684.1 381.1L685.4 383.5L686.7 386.8L688 389.1L689.3 390L690.6 391.1L691.9 392L693.2 390.1L694.5 389.3L695.8 389.6L697.1 387.9L698.3 385.7L699.6 385.1L700.9 383.6L702.2 380.9L703.5 378.4L704.8 376.8L706.1 377.5L707.4 379.3L708.7 379.8L710 380.3L711.3 380.5L712.5 381.4L713.8 382.3L715.1 381.9L716.4 381.4L717.7 380.8L719 380.1L720.3 382.3L721.6 385.6L722.9 386.7L724.2 386.6L725.5 388.7L726.8 390.7L728 391.9L729.3 393.8L730.6 393.7L731.9 392.9L733.2 392.1L734.5 390.8L735.8 389.2L737.1 389L738.4 390.8L739.7 390.5L741 388.4L742.2 388.1L743.5 388.1L744.8 387.6L746.1 388.7L747.4 390L748.7 391.1L750 392.5L751.3 392.4L752.6 392.2L753.9 393.6L755.2 395.3L756.4 395.8L757.7 397.6L759 401.2L760.3 405.4L761.6 407.8L762.9 409L764.2 409.6L765.5 410.1L766.8 412.3L768.1 414.3L769.4 414.9L770.6 416.5L771.9 418.8L773.2 421.3L774.5 423.7L775.8 425.5L777.1 427.4L778.4 427.6L779.7 426.8L781 427.3L782.3 428.6L783.6 428.1L784.8 425.1L786.1 421.1L787.4 420L788.7 420L790 420L791.3 421.8L792.6 423.7L793.9 423.2L795.2 422.9L796.5 423.4L797.8 423.9L799 423.2L800.3 422.8L801.6 424.3L802.9 424.9L804.2 424.6L805.5 425.4L806.8 425.6L808.1 424.9L809.4 424.8L810.7 424.5L812 425.3L813.2 427.2L814.5 428.6L815.8 430.2L817.1 430.5L818.4 429.4L819.7 429.5L821 429.6L822.3 428.9L823.6 428L824.9 427L826.2 426.7L827.4 428.1L828.7 429L830 428.7L831.3 429.3L832.6 429.8L833.9 429.2L835.2 427.9L836.5 426L837.8 425L839.1 425.6L840.4 425.5L841.6 425.2L842.9 426.5L844.2 428.7L845.5 431.1L846.8 431.7L848.1 432.5L849.4 434.3L850.7 435.7L852 436.9L853.3 438.2L854.6 439.6L855.8 442L857.1 444.3L858.4 445.7L859.7 446.6L861 448.3L862.3 450L863.6 449.8L864.9 447.6L866.2 442.6L867.5 435.6L868.8 431.8L870.1 430.3L871.3 429.6L872.6 427.3L873.9 424.4L875.2 422.1L876.5 420.3L877.8 419.4L879.1 419.2L880.4 419.3L881.7 419L883 418.2L884.3 417.2L885.5 416.5L886.8 416.7L888.1 418.4L889.4 421.3L890.7 423.4L892 427.1L893.3 429.3L894.6 428.4L895.9 427.8L897.2 427.9L898.5 428.4L899.7 428.4L901 427.7L902.3 427L903.6 426.2L904.9 424.8L906.2 423.1L907.5 420.5L908.8 418.3L910.1 418.3L911.4 419.3L912.7 419.4L913.9 418" stroke="#333333" stroke-width="4.35" stroke-dasharray="15.4 6.7" stroke-linecap="butt"/>
<rect x="101.5" y="163.1" width="13.8" height="13.8" fill="#333333"/>
<rect x="181.6" y="275.1" width="13.8" height="13.8" fill="#333333"/>
<rect x="261.7" y="274" width="13.8" height="13.8" fill="#333333"/>
<rect x="341.8" y="289.6" width="13.8" height="13.8" fill="#333333"/>
<rect x="421.9" y="294.8" width="13.8" height="13.8" fill="#333333"/>
<rect x="502.1" y="335.1" width="13.8" height="13.8" fill="#333333"/>
<rect x="582.2" y="321.7" width="13.8" height="13.8" fill="#333333"/>
<rect x="662.3" y="375.7" width="13.8" height="13.8" fill="#333333"/>
<rect x="742.4" y="384.1" width="13.8" height="13.8" fill="#333333"/>
<rect x="822.5" y="421.1" width="13.8" height="13.8" fill="#333333"/>
<rect x="902.6" y="410.5" width="13.8" height="13.8" fill="#333333"/>
<path d="M108.4 158L109.7 140L110.9 124L112.2 152L113.5 199.9L114.8 222.7L116.1 192.2L117.4 260.2L118.7 277.8L120 209.5L121.3 257L122.6 279.3L123.9 238.8L125.1 318.6L126.4 255.7L127.7 292L129 337.1L130.3 261L131.6 223.9L132.9 235.2L134.2 202.9L135.5 298L136.8 333.8L138.1 241.8L139.3 268.6L140.6 260.1L141.9 228.8L143.2 283.3L144.5 192L145.8 284.7L147.1 316.5L148.4 288.4L149.7 284.1L151 264.3L152.3 284L153.5 341.7L154.8 277.5L156.1 352.3L157.4 321L158.7 295.4L160 263L161.3 338.2L162.6 296.2L163.9 261.3L165.2 364.7L166.5 264.5L167.7 369.6L169 252.5L170.3 280.8L171.6 374.3L172.9 261.5L174.2 303.9L175.5 261.5L176.8 368.1L178.1 315L179.4 248.7L180.7 244.5L181.9 310.3L183.2 339.6L184.5 251.8L185.8 323.8L187.1 327.5L188.4 239.6L189.7 307.2L191 266.6L192.3 334.9L193.6 270.1L194.9 310.7L196.1 254.2L197.4 283.3L198.7 238.6L200 285.5L201.3 284.9L202.6 225.6L203.9 290.9L205.2 267.5L206.5 275.7L207.8 300.8L209.1 352.5L210.3 289.9L211.6 280.5L212.9 255.4L214.2 311.5L215.5 252.5L216.8 285.8L218.1 340.9L219.4 263.4L220.7 348.7L222 261.4L223.3 235.7L224.6 253.7L225.8 265.9L227.1 300.3L228.4 364.9L229.7 363.5L231 347.2L232.3 285.8L233.6 251L234.9 337.8L236.2 288.6L237.5 260.7L238.8 292.6L240 283.8L241.3 333.1L242.6 340.9L243.9 344.4L245.2 340.5L246.5 303L247.8 350.8L249.1 262.1L250.4 343.3L251.7 278.8L253 294.3L254.2 233.8L255.5 295.5L256.8 252.2L258.1 284.5L259.4 282.6L260.7 241.7L262 331.1L263.3 333.8L264.6 310.6L265.9 347.1L267.2 273.3L268.4 342.3L269.7 291L271 270.9L272.3 304.5L273.6 310.5L274.9 280.6L276.2 278.8L277.5 283.3L278.8 322.7L280.1 306.7L281.4 306.9L282.6 302.9L283.9 307.5L285.2 286.7L286.5 291.4L287.8 288.2L289.1 375L290.4 278.7L291.7 305.2L293 333.7L294.3 286.9L295.6 296.6L296.8 265.9L298.1 245.2L299.4 295.5L300.7 302.8L302 324.6L303.3 375.1L304.6 277.1L305.9 363.6L307.2 404.5L308.5 288.2L309.8 280.2L311 274.3L312.3 302.4L313.6 305.4L314.9 342.1L316.2 312.2L317.5 295.1L318.8 337.3L320.1 280.5L321.4 307.1L322.7 289.8L324 290L325.2 314.4L326.5 306L327.8 373.9L329.1 325.3L330.4 319.3L331.7 283L333 329.9L334.3 283.4L335.6 295.5L336.9 271.6L338.2 345.1L339.4 257.3L340.7 234.1L342 276.4L343.3 286.3L344.6 330.5L345.9 380.3L347.2 308.6L348.5 356L349.8 338.7L351.1 348.5L352.4 322.5L353.7 289.5L354.9 304.8L356.2 314.5L357.5 375.7L358.8 373.2L360.1 284.2L361.4 404.1L362.7 329.8L364 346.4L365.3 329.8L366.6 285L367.9 284.4L369.1 257.5L370.4 330.3L371.7 291.9L373 274.9L374.3 297.4L375.6 315.5L376.9 329.3L378.2 357.7L379.5 267.7L380.8 339.3L382.1 269.4L383.3 376.9L384.6 370.2L385.9 271.3L387.2 296.2L388.5 322.6L389.8 349.6L391.1 383.8L392.4 258.9L393.7 314.5L395 389.2L396.3 289.2L397.5 297L398.8 301.3L400.1 292.9L401.4 357.4L402.7 350.4L404 342.6L405.3 314.9L406.6 304.7L407.9 244.2L409.2 313.4L410.5 296.1L411.7 251.6L413 338.5L414.3 316L415.6 294L416.9 342.4L418.2 291.6L419.5 312.1L420.8 288L422.1 318L423.4 274.6L424.7 293.6L425.9 299.3L427.2 372.5L428.5 274.5L429.8 360.2L431.1 351.1L432.4 290.4L433.7 300.2L435 355.1L436.3 331.3L437.6 281.4L438.9 323.3L440.1 338.6L441.4 351L442.7 369.7L444 312.7L445.3 286.1L446.6 360.9L447.9 344.3L449.2 431.6L450.5 339.8L451.8 394.2L453.1 300.4L454.3 338.8L455.6 374.8L456.9 339.6L458.2 311.9L459.5 341.3L460.8 309.3L462.1 318.7L463.4 413.2L464.7 376.7L466 366.5L467.3 379.5L468.5 327L469.8 322.7L471.1 380.2L472.4 348.1L473.7 416L475 351.3L476.3 365.7L477.6 319.9L478.9 270L480.2 319.5L481.5 343.8L482.8 346.7L484 299.3L485.3 329.2L486.6 385.7L487.9 336.3L489.2 407L490.5 308.6L491.8 281.6L493.1 351.5L494.4 319.1L495.7 343.5L497 336.7L498.2 348.9L499.5 324.8L500.8 375.7L502.1 412L503.4 344.3L504.7 341.6L506 443.1L507.3 385.3L508.6 338.6L509.9 356.1L511.2 356.1L512.4 352.4L513.7 386.4L515 353.6L516.3 384.4L517.6 422.2L518.9 409.4L520.2 412.3L521.5 332L522.8 427L524.1 357.5L525.4 299.9L526.6 320.2L527.9 353.4L529.2 362.4L530.5 483.5L531.8 418.2L533.1 333.7L534.4 405.1L535.7 316.5L537 297L538.3 363.4L539.6 398.5L540.8 307.2L542.1 343.2L543.4 381.4L544.7 325.1L546 412.4L547.3 401.7L548.6 367.7L549.9 342.6L551.2 324.1L552.5 425.8L553.8 319.9L555 336.6L556.3 364.3L557.6 295.7L558.9 338.6L560.2 296.8L561.5 420.5L562.8 307.4L564.1 410.2L565.4 356.9L566.7 277.4L568 344.2L569.2 380.5L570.5 334.9L571.8 328.2L573.1 313.2L574.4 323.8L575.7 300.7L577 374L578.3 262.3L579.6 352L580.9 406.9L582.2 318.3L583.4 324.3L584.7 319.4L586 337.8L587.3 404.5L588.6 398.2L589.9 359.8L591.2 340.6L592.5 344.7L593.8 302.1L595.1 308.7L596.4 343.9L597.6 368.6L598.9 319.2L600.2 322.1L601.5 354.6L602.8 327L604.1 422L605.4 373.7L606.7 432.7L608 365L609.3 406.5L610.6 389.5L611.9 349L613.1 428.7L614.4 375.9L615.7 392.9L617 418.7L618.3 413.3L619.6 357.9L620.9 415L622.2 427.6L623.5 364L624.8 449.9L626.1 429.4L627.3 388.7L628.6 362.7L629.9 385.2L631.2 362.7L632.5 402.9L633.8 329.1L635.1 389.1L636.4 403.9L637.7 404.6L639 364.6L640.3 442.8L641.5 392.5L642.8 420L644.1 383.9L645.4 452.2L646.7 345.7L648 386.2L649.3 404.7L650.6 369.5L651.9 374L653.2 464.1L654.5 400.6L655.7 404.7L657 410.6L658.3 393L659.6 421.5L660.9 470.7L662.2 418.3L663.5 363.3L664.8 398.2L666.1 366.5L667.4 402.6L668.7 405.6L669.9 416.9L671.2 447.4L672.5 436.3L673.8 356.6L675.1 397.2L676.4 441.7L677.7 379.1L679 342.8L680.3 413.4L681.6 403.8L682.9 392.9L684.1 376.5L685.4 456.8L686.7 398L688 410.3L689.3 440.9L690.6 468.8L691.9 453.6L693.2 420L694.5 347.8L695.8 410.6L697.1 400.7L698.3 430.5L699.6 362.5L700.9 400.8L702.2 379.5L703.5 362.6L704.8 428.5L706.1 411.8L707.4 350.4L708.7 448.2L710 422.9L711.3 448.3L712.5 387.3L713.8 410.9L715.1 385.4L716.4 391.6L717.7 389.5L719 482.2L720.3 416.4L721.6 393.8L722.9 374.1L724.2 432.1L725.5 368.6L726.8 458.7L728 402.8L729.3 379.1L730.6 372.5L731.9 397L733.2 370.2L734.5 480.5L735.8 423.1L737.1 410.7L738.4 456.4L739.7 408.9L741 391.8L742.2 343.7L743.5 464.3L744.8 384.5L746.1 452.2L747.4 370.8L748.7 465.1L750 352.4L751.3 428.1L752.6 412.2L753.9 407.4L755.2 388.3L756.4 380.2L757.7 412.9L759 494.5L760.3 417.3L761.6 451.8L762.9 445.4L764.2 387.4L765.5 409.1L766.8 417.9L768.1 413.5L769.4 473.5L770.6 409.5L771.9 424.1L773.2 478.9L774.5 501.2L775.8 498.2L777.1 517.7L778.4 399.3L779.7 401.2L781 436.1L782.3 439.9L783.6 469.3L784.8 458.9L786.1 463.5L787.4 490.5L788.7 474.3L790 417.5L791.3 412L792.6 458.2L793.9 418.2L795.2 442.2L796.5 430L797.8 451L799 492.1L800.3 518.8L801.6 408.2L802.9 443.6L804.2 438.3L805.5 492.8L806.8 497.4L808.1 528.5L809.4 495.5L810.7 467.2L812 447.6L813.2 432L814.5 464.1L815.8 445.9L817.1 458L818.4 477.1L819.7 427.1L821 432L822.3 398.1L823.6 435.6L824.9 469.3L826.2 409.4L827.4 462.1L828.7 458.3L830 521.2L831.3 459L832.6 483.1L833.9 521L835.2 454.8L836.5 502.6L837.8 475.9L839.1 439.9L840.4 507.7L841.6 469.3L842.9 424.9L844.2 432L845.5 430.2L846.8 397.4L848.1 484.3L849.4 416L850.7 454.4L852 385.4L853.3 449.7L854.6 461.9L855.8 527.6L857.1 410.7L858.4 448.3L859.7 475.5L861 463.9L862.3 516.8L863.6 483.6L864.9 422.2L866.2 488.6L867.5 322.2L868.8 437.9L870.1 426.6L871.3 436.6L872.6 497.6L873.9 391.8L875.2 435.8L876.5 392.7L877.8 441.5L879.1 449.2L880.4 543.1L881.7 434.5L883 432.1L884.3 454.5L885.5 401.8L886.8 483.6L888.1 431.3L889.4 501.1L890.7 507.4L892 383.8L893.3 457L894.6 452.6L895.9 458.6L897.2 542.6L898.5 421L899.7 452.4L901 501L902.3 457.1L903.6 400.9L904.9 406.3L906.2 411.1L907.5 449L908.8 459.6L910.1 431.3L911.4 453L912.7 427L913.9 413" stroke="#666666" stroke-opacity="0.3" stroke-width="1.0" stroke-dasharray="6.1 1.5 1 1.5" stroke-linejoin="miter"/>
<path d="M108.4 158L109.7 153L110.9 153.3L112.2 158.3L113.5 163.6L114.8 168.8L116.1 173.9L117.4 178.7L118.7 183.6L120 188.4L121.3 192.3L122.6 196.2L123.9 200.1L125.1 203.7L126.4 207.3L127.7 210.6L129 212.8L130.3 215L131.6 217.3L132.9 219.5L134.2 222.9L135.5 228.9L136.8 239.4L138.1 250.1L139.3 257.2L140.6 262.1L141.9 266.7L143.2 268.5L144.5 270.2L145.8 271.5L147.1 271.6L148.4 272.9L149.7 272.9L151 273L152.3 273.9L153.5 274.9L154.8 275.9L156.1 276.9L157.4 278.8L158.7 280.7L160 281.8L161.3 283.2L162.6 284.5L163.9 286.9L165.2 288.4L166.5 286.7L167.7 285.8L169 286.1L170.3 286.3L171.6 288.4L172.9 290.6L174.2 291L175.5 290.7L176.8 289.7L178.1 289.1L179.4 289.2L180.7 287.6L181.9 286.8L183.2 287.5L184.5 288.2L185.8 288L187.1 286.6L188.4 285.2L189.7 285.9L191 287.8L192.3 288.6L193.6 288.4L194.9 290.3L196.1 292.4L197.4 291.7L198.7 290.7L200 289.8L201.3 289.8L202.6 291.6L203.9 292.5L205.2 291.7L206.5 292.5L207.8 293.8L209.1 294.3L210.3 293.7L211.6 292.2L212.9 291.6L214.2 291.3L215.5 289.9L216.8 289.8L218.1 288.5L219.4 287.4L220.7 286.9L222 286.5L223.3 287.7L224.6 289.5L225.8 290.6L227.1 292.2L228.4 292.9L229.7 291.8L231 290.9L232.3 289L233.6 287.1L234.9 287.4L236.2 288.1L237.5 289.2L238.8 290.9L240 291.4L241.3 290.7L242.6 290.7L243.9 291.6L245.2 292.4L246.5 292.8L247.8 292.3L249.1 291.3L250.4 290.9L251.7 289.8L253 288.5L254.2 289.4L255.5 290.2L256.8 289.8L258.1 288.7L259.4 287.3L260.7 286.1L262 285.5L263.3 285.6L264.6 285.5L265.9 285.1L267.2 285.2L268.4 285.6L269.7 285.9L271 285.2L272.3 285L273.6 286.1L274.9 286.4L276.2 286.2L277.5 286L278.8 286.8L280.1 288.8L281.4 290.4L282.6 291.8L283.9 293.9L285.2 294.9L286.5 295.2L287.8 295.9L289.1 297.6L290.4 300.1L291.7 302.1L293 302.4L294.3 302.4L295.6 302.1L296.8 302.1L298.1 303.5L299.4 304.8L300.7 305L302 305.2L303.3 305.7L304.6 306.1L305.9 307.3L307.2 308.5L308.5 308L309.8 308L311 307.6L312.3 307L313.6 305.9L314.9 305.2L316.2 305.8L317.5 307.5L318.8 307.8L320.1 307.1L321.4 307.1L322.7 307.8L324 308.7L325.2 309.5L326.5 309.8L327.8 309.1L329.1 306.4L330.4 303.7L331.7 301.8L333 301.5L334.3 302.7L335.6 302.3L336.9 300.6L338.2 300.5L339.4 301.9L340.7 303L342 302.5L343.3 301.1L344.6 300.1L345.9 299.5L347.2 300.9L348.5 302.9L349.8 302.7L351.1 302.1L352.4 304.2L353.7 306L354.9 306.1L356.2 307.4L357.5 309.3L358.8 312.1L360.1 315.1L361.4 314.8L362.7 312.4L364 311.9L365.3 313L366.6 315.6L367.9 319.1L369.1 320.8L370.4 321.3L371.7 321.2L373 318.8L374.3 317.9L375.6 318.5L376.9 318.8L378.2 318.2L379.5 316.9L380.8 315.1L382.1 312.6L383.3 310.6L384.6 309L385.9 308.6L387.2 309.7L388.5 309.8L389.8 309L391.1 309.5L392.4 311L393.7 310.9L395 309L396.3 307.2L397.5 305.7L398.8 302.9L400.1 300.7L401.4 300.4L402.7 300.2L404 301L405.3 301.4L406.6 300.4L407.9 299.8L409.2 300.5L410.5 301.2L411.7 301.6L413 300.6L414.3 299.3L415.6 299.6L416.9 300.5L418.2 301.9L419.5 303.8L420.8 304.8L422.1 305.6L423.4 306.7L424.7 307.4L425.9 307.9L427.2 308L428.5 307.1L429.8 308L431.1 309.7L432.4 309.9L433.7 311.7L435 313.8L436.3 316.3L437.6 319.5L438.9 321.4L440.1 322.9L441.4 325.9L442.7 328.3L444 330.4L445.3 333.7L446.6 337.2L447.9 339.4L449.2 339.4L450.5 339.5L451.8 341.3L453.1 342.1L454.3 341.6L455.6 342.4L456.9 344.2L458.2 346.8L459.5 349.4L460.8 348.6L462.1 347.9L463.4 347.7L464.7 347L466 346.7L467.3 345.7L468.5 344.5L469.8 345.5L471.1 349L472.4 351.5L473.7 351.9L475 351.7L476.3 351.4L477.6 350.7L478.9 352L480.2 352.3L481.5 350.6L482.8 349.5L484 348.4L485.3 346.9L486.6 344.6L487.9 342.3L489.2 340.3L490.5 341.5L491.8 344.2L493.1 346.2L494.4 347.9L495.7 349.7L497 352.1L498.2 352.8L499.5 352.9L500.8 353.4L502.1 353.8L503.4 353.9L504.7 353.9L506 353.3L507.3 352.5L508.6 352.4L509.9 351.2L511.2 349.4L512.4 348.6L513.7 348.8L515 348.3L516.3 346.7L517.6 344.8L518.9 343.2L520.2 342.5L521.5 341.4L522.8 339.4L524.1 338.2L525.4 337.6L526.6 335.7L527.9 335L529.2 336.3L530.5 337.4L531.8 336.9L533.1 334.4L534.4 331.5L535.7 330.6L537 331.1L538.3 333.1L539.6 335.2L540.8 337.5L542.1 339.5L543.4 340.8L544.7 341.7L546 341.2L547.3 342L548.6 345.1L549.9 347.1L551.2 348.4L552.5 349.6L553.8 350.2L555 351.1L556.3 352.5L557.6 353L558.9 352.2L560.2 351.1L561.5 351.1L562.8 348.8L564.1 347.5L565.4 346.4L566.7 344.2L568 341.1L569.2 338.2L570.5 335.9L571.8 334.7L573.1 333.8L574.4 332.1L575.7 330.9L577 330.5L578.3 329.8L579.6 328.1L580.9 327.3L582.2 327.8L583.4 329L584.7 329.9L586 331.8L587.3 334.1L588.6 335.3L589.9 336.4L591.2 338.1L592.5 339.2L593.8 340.8L595.1 343.2L596.4 345.1L597.6 347.6L598.9 350.9L600.2 352.9L601.5 353.7L602.8 356.4L604.1 361.2L605.4 364.9L606.7 366.4L608 368.7L609.3 370.6L610.6 371.4L611.9 372.7L613.1 374.2L614.4 375.2L615.7 375.6L617 375.7L618.3 376.7L619.6 376.9L620.9 377L622.2 377.1L623.5 377.8L624.8 379.2L626.1 379.4L627.3 378.6L628.6 378.2L629.9 377.7L631.2 378.9L632.5 381.4L633.8 383L635.1 384L636.4 385.2L637.7 387.8L639 389.8L640.3 391.7L641.5 394.9L642.8 400.4L644.1 404.8L645.4 404.3L646.7 404.5L648 403.2L649.3 400.7L650.6 401.2L651.9 404.7L653.2 407.1L654.5 408.4L655.7 410.3L657 411.8L658.3 410.1L659.6 406.8L660.9 404.8L662.2 404L663.5 402.6L664.8 400.9L666.1 398.8L667.4 396.5L668.7 395.7L669.9 397.5L671.2 398.6L672.5 398.5L673.8 398.2L675.1 398.1L676.4 398.4L677.7 397.9L679 396.1L680.3 394.8L681.6 394L682.9 393.4L684.1 394.7L685.4 397.4L686.7 400L688 403.1L689.3 404.4L690.6 405.3L691.9 408L693.2 407.6L694.5 406L695.8 404.6L697.1 403.7L698.3 402.4L699.6 400.9L700.9 399.7L702.2 397.5L703.5 393.7L704.8 391.1L706.1 391.4L707.4 393.2L708.7 394.7L710 393.8L711.3 392.1L712.5 393.1L713.8 395.1L715.1 395.7L716.4 394.8L717.7 393.8L719 394.7L720.3 397.6L721.6 399.5L722.9 400.5L724.2 401.7L725.5 403.1L726.8 404.7L728 407.3L729.3 409L730.6 410.4L731.9 410.6L733.2 410L734.5 408.9L735.8 407.9L737.1 408.5L738.4 408.8L739.7 407.4L741 405.5L742.2 403.8L743.5 403.5L744.8 404.1L746.1 405.6L747.4 407.8L748.7 409.2L750 409.7L751.3 410.9L752.6 412.2L753.9 413.4L755.2 415.3L756.4 417.1L757.7 418.9L759 421.9L760.3 424.6L761.6 426.4L762.9 428.1L764.2 430.5L765.5 432.4L766.8 433.3L768.1 434L769.4 434.4L770.6 434.6L771.9 435.8L773.2 439L774.5 442.5L775.8 444.7L777.1 446L778.4 446.7L779.7 447.7L781 447.2L782.3 444.6L783.6 441.5L784.8 437.4L786.1 438L787.4 440.1L788.7 440.8L790 440.8L791.3 442.3L792.6 442.8L793.9 443.1L795.2 444.8L796.5 445.2L797.8 444.8L799 443.9L800.3 443.6L801.6 444.3L802.9 444.5L804.2 445.1L805.5 446L806.8 445.9L808.1 445.6L809.4 445L810.7 445.3L812 446.6L813.2 447.4L814.5 447.7L815.8 448.3L817.1 449.5L818.4 449.5L819.7 449.1L821 450.6L822.3 450.7L823.6 448.3L824.9 447.5L826.2 449L827.4 449.4L828.7 448.4L830 448.6L831.3 449.2L832.6 448.5L833.9 447.9L835.2 446.6L836.5 444.2L837.8 443L839.1 443.6L840.4 444.9L841.6 445.6L842.9 445.9L844.2 446.7L845.5 448.5L846.8 449.8L848.1 450.8L849.4 452.3L850.7 453.9L852 455.3L853.3 456.8L854.6 458.1L855.8 459.4L857.1 461.7L858.4 463.4L859.7 464.5L861 466.3L862.3 468L863.6 469.9L864.9 469.9L866.2 463.6L867.5 454.3L868.8 451.5L870.1 451.1L871.3 449.6L872.6 447.1L873.9 445.6L875.2 445.7L876.5 445L877.8 442.2L879.1 439.6L880.4 439.4L881.7 438.8L883 436.3L884.3 436.8L885.5 438.3L886.8 437.1L888.1 436.3L889.4 437.3L890.7 439.9L892 445.7L893.3 448.7L894.6 448.5L895.9 447.7L897.2 447.9L898.5 449.3L899.7 449.8L901 450.6L902.3 451L903.6 450.7L904.9 450L906.2 447L907.5 443.4L908.8 442.6L910.1 443.8L911.4 444.9L912.7 444.8L913.9 443.7" stroke="#666666" stroke-width="4.35" stroke-dasharray="26.7 6.7 4.2 6.7" stroke-linecap="butt"/>
<polygon points="108.4,149.4 99.6,165.6 117.2,165.6" fill="#666666"/>
<polygon points="188.5,277.9 179.7,294.1 197.3,294.1" fill="#666666"/>
<polygon points="268.6,276.8 259.8,293 277.4,293" fill="#666666"/>
<polygon points="348.7,292.7 339.9,308.9 357.5,308.9" fill="#666666"/>
<polygon points="428.8,300.1 420,316.3 437.6,316.3" fill="#666666"/>
<polygon points="509,342.4 500.2,358.6 517.8,358.6" fill="#666666"/>
<polygon points="589.1,328 580.3,344.2 597.9,344.2" fill="#666666"/>
<polygon points="669.2,388.3 660.4,404.5 678,404.5" fill="#666666"/>
<polygon points="749.3,400.7 740.5,416.9 758.1,416.9" fill="#666666"/>
<polygon points="829.4,440.3 820.6,456.5 838.2,456.5" fill="#666666"/>
<polygon points="909.5,434.2 900.7,450.4 918.3,450.4" fill="#666666"/>
<path d="M108.4 176L109.7 140L110.9 124L112.2 152L113.5 199.3L114.8 228.2L116.1 207.9L117.4 271.9L118.7 275.2L120 201.3L121.3 259.7L122.6 261.1L123.9 258.6L125.1 319L126.4 258.2L127.7 286.6L129 323.6L130.3 263.6L131.6 214L132.9 234.5L134.2 204.2L135.5 301L136.8 331.1L138.1 269.3L139.3 291.3L140.6 266.8L141.9 232L143.2 294.1L144.5 196L145.8 294.8L147.1 320.5L148.4 298.5L149.7 275.4L151 271.3L152.3 265.3L153.5 347.8L154.8 269.4L156.1 352.6L157.4 349.6L158.7 305.6L160 271.4L161.3 333.3L162.6 309.2L163.9 246.3L165.2 371.1L166.5 277.6L167.7 386.7L169 264.5L170.3 290.6L171.6 366.9L172.9 265.7L174.2 291.8L175.5 275.6L176.8 351.2L178.1 336.9L179.4 260.1L180.7 238.7L181.9 334.2L183.2 353.2L184.5 249.1L185.8 330.4L187.1 325.3L188.4 260L189.7 324.9L191 263.9L192.3 339.3L193.6 287.2L194.9 321.8L196.1 257.1L197.4 293.3L198.7 256.6L200 308.9L201.3 280.5L202.6 241.3L203.9 297.2L205.2 249.3L206.5 292.2L207.8 303L209.1 368.3L210.3 290.2L211.6 287L212.9 287.3L214.2 302.2L215.5 270L216.8 303.1L218.1 370.2L219.4 273.4L220.7 352.7L222 260.7L223.3 250.5L224.6 272L225.8 271.8L227.1 295.8L228.4 370.9L229.7 352.6L231 345.5L232.3 289.1L233.6 247.1L234.9 349.6L236.2 282.9L237.5 270.7L238.8 278.9L240 283.5L241.3 346.2L242.6 365.7L243.9 337.9L245.2 357.4L246.5 313.8L247.8 373.3L249.1 260.6L250.4 340.2L251.7 299.2L253 285.9L254.2 232.1L255.5 294.2L256.8 257.9L258.1 297.1L259.4 292.3L260.7 241.1L262 338.9L263.3 348.3L264.6 327.7L265.9 355L267.2 272.9L268.4 357.2L269.7 307.3L271 283L272.3 321.2L273.6 340.1L274.9 297.2L276.2 273.5L277.5 273.8L278.8 348.6L280.1 311.5L281.4 328L282.6 292.5L283.9 293.2L285.2 290.4L286.5 295.4L287.8 288.2L289.1 388.9L290.4 299.6L291.7 337.8L293 347.5L294.3 285.2L295.6 301.2L296.8 271.7L298.1 253.5L299.4 316.5L300.7 307.1L302 345.1L303.3 370.1L304.6 288.8L305.9 363.4L307.2 393.3L308.5 285.8L309.8 269L311 274.1L312.3 305.3L313.6 322.6L314.9 346.6L316.2 326.3L317.5 302.7L318.8 348.5L320.1 297.6L321.4 299.1L322.7 299.8L324 302.4L325.2 329.5L326.5 319.4L327.8 360.3L329.1 317.9L330.4 307.6L331.7 284L333 342.2L334.3 275.6L335.6 304.2L336.9 273.7L338.2 376.3L339.4 253.5L340.7 246.1L342 293.1L343.3 293.6L344.6 327.8L345.9 366L347.2 303.4L348.5 342.3L349.8 345.7L351.1 338.9L352.4 305.4L353.7 286.2L354.9 298.1L356.2 312.1L357.5 378.4L358.8 381L360.1 291L361.4 400.5L362.7 324.4L364 358.5L365.3 310.9L366.6 287L367.9 290.8L369.1 279.4L370.4 353L371.7 288.3L373 291.5L374.3 308.8L375.6 325L376.9 339.7L378.2 351.3L379.5 263.3L380.8 341.3L382.1 259.8L383.3 382.1L384.6 370.5L385.9 267.8L387.2 300.1L388.5 319.3L389.8 370.9L391.1 376.8L392.4 264L393.7 317.4L395 376L396.3 310.2L397.5 312.1L398.8 297.2L400.1 303.3L401.4 365.7L402.7 367.8L404 363.3L405.3 316.2L406.6 305.9L407.9 267.6L409.2 317.9L410.5 311.6L411.7 255.5L413 323.8L414.3 307.7L415.6 324.5L416.9 318.6L418.2 299.4L419.5 321.6L420.8 295.1L422.1 326.5L423.4 280.3L424.7 278.6L425.9 309.1L427.2 380.4L428.5 302.2L429.8 371.5L431.1 367.5L432.4 277L433.7 308.9L435 376.6L436.3 339.9L437.6 303.6L438.9 345.9L440.1 361.2L441.4 361.8L442.7 368.4L444 306.9L445.3 281.9L446.6 362.2L447.9 343.3L449.2 439.5L450.5 340.1L451.8 415L453.1 305.7L454.3 355.2L455.6 394.5L456.9 357.2L458.2 324.2L459.5 367.6L460.8 317.5L462.1 339.3L463.4 431.7L464.7 394L466 392.9L467.3 405.4L468.5 346.4L469.8 362L471.1 371.4L472.4 364.4L473.7 435.5L475 390.4L476.3 377.7L477.6 324.8L478.9 284.3L480.2 328.6L481.5 357.4L482.8 345.2L484 313.5L485.3 341.2L486.6 400L487.9 327L489.2 409.3L490.5 314.1L491.8 299.8L493.1 359L494.4 320.6L495.7 352.1L497 357.9L498.2 372.7L499.5 318.9L500.8 398.2L502.1 420.7L503.4 369.9L504.7 364.6L506 445.9L507.3 381.6L508.6 360.4L509.9 389.9L511.2 358.7L512.4 345.2L513.7 421.1L515 350.3L516.3 418.6L517.6 416L518.9 434L520.2 422L521.5 342.4L522.8 442.6L524.1 409.1L525.4 326.1L526.6 335L527.9 378.3L529.2 393.5L530.5 510.8L531.8 418.4L533.1 319.5L534.4 424.1L535.7 347.4L537 321.4L538.3 364.9L539.6 413.9L540.8 334.3L542.1 361L543.4 394.4L544.7 327.1L546 412.8L547.3 447.3L548.6 400.6L549.9 372.8L551.2 307.3L552.5 410.4L553.8 316.7L555 329.7L556.3 365.7L557.6 299.9L558.9 353.4L560.2 305.1L561.5 436.1L562.8 322.5L564.1 418.2L565.4 375.5L566.7 310.1L568 347.3L569.2 403.2L570.5 360.4L571.8 324.5L573.1 345.3L574.4 341.4L575.7 321.5L577 390.3L578.3 285.1L579.6 365.2L580.9 411.4L582.2 319.5L583.4 326.9L584.7 322.8L586 345.9L587.3 417L588.6 424.5L589.9 388.2L591.2 341.1L592.5 359.8L593.8 324.7L595.1 338.3L596.4 349L597.6 410L598.9 334.1L600.2 344L601.5 375.1L602.8 352.8L604.1 445.7L605.4 391.8L606.7 470.4L608 373L609.3 419L610.6 416L611.9 393.7L613.1 444.6L614.4 387.3L615.7 400.3L617 441.5L618.3 434L619.6 380.5L620.9 439.8L622.2 458.3L623.5 411.1L624.8 479.7L626.1 477.3L627.3 397.1L628.6 396.9L629.9 411L631.2 380.5L632.5 427.7L633.8 350.2L635.1 414.4L636.4 451.9L637.7 447.3L639 389.8L640.3 471.2L641.5 404.4L642.8 435.1L644.1 411.1L645.4 469.4L646.7 377.2L648 415.4L649.3 435.2L650.6 405.7L651.9 402.8L653.2 497.5L654.5 407.5L655.7 435.6L657 430.5L658.3 426.2L659.6 453.1L660.9 492.2L662.2 432.4L663.5 385.4L664.8 428L666.1 383L667.4 428.9L668.7 421L669.9 457.3L671.2 474.4L672.5 464.1L673.8 390.8L675.1 429.7L676.4 459.1L677.7 404.1L679 382.4L680.3 460L681.6 423.3L682.9 441.8L684.1 419.2L685.4 488.6L686.7 420.8L688 431.5L689.3 492.5L690.6 507.1L691.9 481.3L693.2 447.7L694.5 360.2L695.8 436.5L697.1 435.8L698.3 459.5L699.6 383.5L700.9 428.7L702.2 414.3L703.5 388.5L704.8 448.9L706.1 424.1L707.4 369.3L708.7 456.7L710 456.5L711.3 485.3L712.5 412.9L713.8 445L715.1 411.8L716.4 412.9L717.7 413.9L719 494.8L720.3 442.5L721.6 400.7L722.9 384.7L724.2 441.5L725.5 395.3L726.8 485.5L728 433.5L729.3 421.4L730.6 385.8L731.9 426.2L733.2 391.3L734.5 513.3L735.8 440.1L737.1 430.8L738.4 488.3L739.7 440.8L741 413.2L742.2 380.3L743.5 491L744.8 433.8L746.1 478.3L747.4 406.9L748.7 490.7L750 368.5L751.3 459.9L752.6 445L753.9 431.5L755.2 425.8L756.4 421.6L757.7 458.7L759 509.7L760.3 460.4L761.6 469L762.9 444.5L764.2 432.6L765.5 452.3L766.8 441.2L768.1 478.8L769.4 489.2L770.6 442.8L771.9 462.8L773.2 513.1L774.5 533.7L775.8 533.4L777.1 578.6L778.4 428.4L779.7 452L781 474.3L782.3 485L783.6 520.6L784.8 505.1L786.1 492L787.4 528.1L788.7 522.3L790 458.2L791.3 452.8L792.6 493.2L793.9 460.1L795.2 486.6L796.5 468.4L797.8 466.8L799 549.2L800.3 572.7L801.6 452L802.9 479.2L804.2 479.8L805.5 530.4L806.8 540.2L808.1 578.4L809.4 546.8L810.7 532.4L812 479.1L813.2 496.2L814.5 536.2L815.8 494.5L817.1 519.3L818.4 530.7L819.7 471.8L821 470.6L822.3 418.6L823.6 501.3L824.9 503L826.2 465.1L827.4 478.6L828.7 519.3L830 558.4L831.3 499.4L832.6 520.2L833.9 546.7L835.2 483.3L836.5 548.5L837.8 543.8L839.1 485L840.4 564.7L841.6 517.3L842.9 471.2L844.2 483.9L845.5 468.3L846.8 437.2L848.1 531.7L849.4 485.7L850.7 501L852 422.3L853.3 493.2L854.6 492.5L855.8 554.8L857.1 463.8L858.4 486L859.7 513.9L861 495.5L862.3 550.5L863.6 548.7L864.9 462.6L866.2 540.2L867.5 336.9L868.8 465.4L870.1 450.8L871.3 487.9L872.6 561.1L873.9 417.4L875.2 471.5L876.5 413.8L877.8 470.7L879.1 505.2L880.4 600.3L881.7 473L883 492.4L884.3 499.9L885.5 444.8L886.8 538.8L888.1 473.1L889.4 546.8L890.7 567L892 446.6L893.3 533.1L894.6 496.8L895.9 469.2L897.2 584.2L898.5 460.6L899.7 472.3L901 558.9L902.3 500.4L903.6 446.2L904.9 447.1L906.2 448.6L907.5 488.3L908.8 505L910.1 465.7L911.4 475.7L912.7 477.5L913.9 479" stroke="#999999" stroke-opacity="0.3" stroke-width="1.0" stroke-dasharray="2.9 1 1 1" stroke-linejoin="miter"/>
<path d="M108.4 176L109.7 159.2L110.9 155.4L112.2 160.6L113.5 165.6L114.8 170.8L116.1 175.9L117.4 180.7L118.7 185.6L120 190.4L121.3 194.3L122.6 198.2L123.9 202.1L125.1 205.7L126.4 209.3L127.7 212.6L129 214.8L130.3 217L131.6 218.9L132.9 220.9L134.2 224L135.5 229.8L136.8 240.3L138.1 251.3L139.3 258.6L140.6 263.9L141.9 269L143.2 271.4L144.5 273.6L145.8 275.3L147.1 274.6L148.4 276.4L149.7 278.3L151 279L152.3 279.7L153.5 281.4L154.8 282.8L156.1 283L157.4 283.1L158.7 284.3L160 286.5L161.3 289.4L162.6 290.9L163.9 291.6L165.2 292.3L166.5 293L167.7 294.9L169 295.6L170.3 295L171.6 294.7L172.9 294.5L174.2 295.4L175.5 296.7L176.8 295.8L178.1 295.2L179.4 295.2L180.7 293.5L181.9 291.5L183.2 291.4L184.5 292.7L185.8 292.8L187.1 292.4L188.4 291.9L189.7 291.4L191 291.9L192.3 293.5L193.6 295.1L194.9 295.9L196.1 297L197.4 298.3L198.7 298.3L200 296.5L201.3 295.5L202.6 295.3L203.9 295.5L205.2 296.7L206.5 298.7L207.8 298.6L209.1 297.6L210.3 297.4L211.6 298.1L212.9 299L214.2 298.7L215.5 296.4L216.8 295.1L218.1 294L219.4 294L220.7 293.1L222 292.1L223.3 292.8L224.6 293.8L225.8 295.4L227.1 297.2L228.4 298.1L229.7 298.9L231 298.5L232.3 295.9L233.6 293.8L234.9 293.3L236.2 293.6L237.5 294.5L238.8 295.1L240 296L241.3 296.2L242.6 296.4L243.9 297.5L245.2 297L246.5 296.3L247.8 296.6L249.1 296.6L250.4 296.6L251.7 296.1L253 295.8L254.2 296.1L255.5 296.1L256.8 294.7L258.1 292.3L259.4 291.8L260.7 292.3L262 291.3L263.3 291.3L264.6 292.3L265.9 291.3L267.2 289.9L268.4 291.1L269.7 293L271 292.4L272.3 291L273.6 291L274.9 291.4L276.2 291.5L277.5 291.3L278.8 291.9L280.1 293L281.4 294.6L282.6 297.4L283.9 299.6L285.2 301L286.5 301.8L287.8 302.5L289.1 304.9L290.4 307.8L291.7 309.3L293 308.3L294.3 306.6L295.6 306.9L296.8 308.1L298.1 308.8L299.4 309.4L300.7 309.8L302 309.9L303.3 310.7L304.6 312L305.9 312.9L307.2 313.8L308.5 313.2L309.8 312.6L311 312.5L312.3 311.8L313.6 310.7L314.9 311.5L316.2 313L317.5 313.9L318.8 313.1L320.1 311.6L321.4 311.7L322.7 312.2L324 313.1L325.2 314.9L326.5 315.8L327.8 315.4L329.1 313L330.4 311.5L331.7 309.9L333 308.4L334.3 308.9L335.6 309.2L336.9 308.2L338.2 307L339.4 306.6L340.7 307.8L342 309L343.3 308.6L344.6 307.4L345.9 306.5L347.2 306.8L348.5 307.9L349.8 308.7L351.1 309L352.4 309.4L353.7 310.1L354.9 310.9L356.2 312.6L357.5 314.6L358.8 316.9L360.1 319.3L361.4 320.4L362.7 319.8L364 319.2L365.3 319.1L366.6 320.6L367.9 322.4L369.1 323.7L370.4 325.4L371.7 326.3L373 324.8L374.3 323.6L375.6 322.8L376.9 322.3L378.2 322.1L379.5 321.2L380.8 319.2L382.1 318.9L383.3 319.1L384.6 318.1L385.9 319L387.2 320.6L388.5 320.1L389.8 318.3L391.1 316L392.4 314.8L393.7 313.9L395 312.9L396.3 311.4L397.5 307.9L398.8 305L400.1 305.4L401.4 306.8L402.7 306.3L404 305.6L405.3 304.7L406.6 303.9L407.9 303.6L409.2 303.8L410.5 305L411.7 306.7L413 306.8L414.3 306L415.6 306.2L416.9 308L418.2 309.7L419.5 311.1L420.8 312L422.1 311.4L423.4 310.2L424.7 310.7L425.9 312.9L427.2 314.6L428.5 314.6L429.8 315.8L431.1 318.7L432.4 320.4L433.7 320.4L435 321.7L436.3 325L437.6 328.2L438.9 330L440.1 331.8L441.4 334.5L442.7 336.8L444 339.2L445.3 341.4L446.6 342L447.9 343.1L449.2 346.4L450.5 349.7L451.8 351.6L453.1 352.4L454.3 354.1L455.6 357.1L456.9 359.8L458.2 361.6L459.5 361.8L460.8 361.8L462.1 363.3L463.4 363.6L464.7 362.4L466 361.1L467.3 361L468.5 360.9L469.8 361.7L471.1 363.3L472.4 364.3L473.7 365L475 365.7L476.3 365L477.6 363.5L478.9 363L480.2 362.8L481.5 362.8L482.8 364.7L484 365.9L485.3 365L486.6 362.6L487.9 360.6L489.2 358.8L490.5 357.9L491.8 359.4L493.1 360.4L494.4 360.9L495.7 362.5L497 364.7L498.2 366L499.5 366.2L500.8 366.4L502.1 367L503.4 366L504.7 364.5L506 364.5L507.3 365.3L508.6 364.7L509.9 362.6L511.2 362L512.4 361.8L513.7 361L515 360.5L516.3 358.9L517.6 357.2L518.9 356.9L520.2 356.7L521.5 355.6L522.8 355.2L524.1 355.5L525.4 354.1L526.6 352.4L527.9 352.8L529.2 353.6L530.5 352.7L531.8 350.4L533.1 348.3L534.4 347.2L535.7 346.7L537 347.5L538.3 349.5L539.6 350.9L540.8 351.9L542.1 353.6L543.4 354.3L544.7 353.3L546 353L547.3 354.5L548.6 356.6L549.9 358.5L551.2 360.1L552.5 360.9L553.8 361.3L555 362.1L556.3 362.7L557.6 362.6L558.9 361.3L560.2 358.9L561.5 356.9L562.8 356.4L564.1 356.9L565.4 357.8L566.7 357.5L568 356L569.2 354.1L570.5 352.8L571.8 352L573.1 350.2L574.4 347.9L575.7 346L577 344.4L578.3 342.7L579.6 340.5L580.9 339.9L582.2 341L583.4 344.3L584.7 346.2L586 346.9L587.3 349.2L588.6 351.9L589.9 352.3L591.2 352.5L592.5 353.7L593.8 356.5L595.1 360.3L596.4 365.2L597.6 368.8L598.9 372L600.2 376.3L601.5 379.5L602.8 382.1L604.1 384.4L605.4 387.4L606.7 391.3L608 394.2L609.3 396.6L610.6 397.6L611.9 397.5L613.1 398.1L614.4 399.3L615.7 400.6L617 402.5L618.3 403.7L619.6 403.3L620.9 403.7L622.2 405.4L623.5 406.6L624.8 407.4L626.1 409.1L627.3 409.8L628.6 409.8L629.9 409.6L631.2 411.1L632.5 413.6L633.8 414.1L635.1 412.8L636.4 412.7L637.7 415.6L639 418.5L640.3 420.5L641.5 423.4L642.8 428.5L644.1 434.7L645.4 436.5L646.7 434L648 431.7L649.3 430.6L650.6 430.9L651.9 431.7L653.2 432.3L654.5 433.2L655.7 433.4L657 433.3L658.3 432.6L659.6 430.9L660.9 428.5L662.2 426.7L663.5 426.3L664.8 425.2L666.1 423.3L667.4 421.6L668.7 419.5L669.9 419.6L671.2 421.6L672.5 423.3L673.8 423.1L675.1 422.8L676.4 423.9L677.7 424.2L679 423.7L680.3 424.4L681.6 426L682.9 427.2L684.1 428.1L685.4 428.9L686.7 431.2L688 433.6L689.3 433.6L690.6 432.4L691.9 432.9L693.2 432.7L694.5 431.9L695.8 430.2L697.1 429.2L698.3 428.9L699.6 427L700.9 423.4L702.2 418.9L703.5 416.9L704.8 417.4L706.1 420L707.4 419.9L708.7 417.3L710 416.5L711.3 417.7L712.5 418.8L713.8 419.3L715.1 417.8L716.4 415.1L717.7 413.9L719 414.1L720.3 416.9L721.6 419.5L722.9 420.4L724.2 420.8L725.5 423L726.8 425.5L728 427.2L729.3 429.2L730.6 430L731.9 430.4L733.2 429.3L734.5 427.4L735.8 427L737.1 429.2L738.4 432.4L739.7 433.5L741 431.6L742.2 428.6L743.5 428.2L744.8 429.6L746.1 431L747.4 432.3L748.7 434L750 436.2L751.3 438.3L752.6 439.4L753.9 440.5L755.2 442.9L756.4 445.6L757.7 448.7L759 451.8L760.3 455.4L761.6 458.8L762.9 461.6L764.2 464.2L765.5 466.1L766.8 468L768.1 470.3L769.4 471.4L770.6 473L771.9 476L773.2 479.9L774.5 483.5L775.8 485.2L777.1 485.1L778.4 486.2L779.7 486.5L781 487.8L782.3 489.8L783.6 486.7L784.8 481.7L786.1 478L787.4 478.9L788.7 481.1L790 482.2L791.3 482.7L792.6 483L793.9 482.9L795.2 482.8L796.5 481L797.8 480.3L799 481L800.3 481.5L801.6 482.7L802.9 484.5L804.2 484.9L805.5 483L806.8 482.6L808.1 484.1L809.4 483.5L810.7 482.6L812 483.3L813.2 486.4L814.5 489L815.8 490.1L817.1 491.2L818.4 492.2L819.7 492L821 490.4L822.3 489.1L823.6 488.6L824.9 488.2L826.2 487.5L827.4 487.1L828.7 488.5L830 490.5L831.3 491.1L832.6 490.2L833.9 488.9L835.2 487.9L836.5 486.4L837.8 484.6L839.1 483.6L840.4 484.1L841.6 484.7L842.9 485.4L844.2 487L845.5 489.3L846.8 490.3L848.1 490.5L849.4 491.9L850.7 493.8L852 494.2L853.3 493.9L854.6 495L855.8 497.7L857.1 501L858.4 503.4L859.7 504.8L861 505.4L862.3 506.3L863.6 507.9L864.9 502.3L866.2 495.6L867.5 488.7L868.8 486.4L870.1 485.6L871.3 485.4L872.6 484.5L873.9 483.9L875.2 483.9L876.5 483.1L877.8 481.3L879.1 480.7L880.4 481.6L881.7 482.5L883 482L884.3 481.6L885.5 482.2L886.8 482.8L888.1 483.3L889.4 485.5L890.7 488.5L892 491.7L893.3 493.4L894.6 493.5L895.9 494.4L897.2 494.6L898.5 493.9L899.7 493.6L901 492.3L902.3 490.2L903.6 489.3L904.9 487.1L906.2 483.4L907.5 481.4L908.8 480.6L910.1 480.4L911.4 481.2L912.7 481.6L913.9 481" stroke="#999999" stroke-width="4.35" stroke-dasharray="12.5 4.2 4.2 4.2" stroke-linecap="butt"/>
<polygon points="108.4,167.5 116.2,176 108.4,184.5 100.6,176" fill="#999999"/>
<polygon points="188.5,283.5 196.3,292 188.5,300.5 180.7,292" fill="#999999"/>
<polygon points="268.6,282.4 276.4,290.9 268.6,299.4 260.8,290.9" fill="#999999"/>
<polygon points="348.7,298.1 356.5,306.6 348.7,315.1 340.9,306.6" fill="#999999"/>
<polygon points="428.8,306.8 436.6,315.3 428.8,323.8 421,315.3" fill="#999999"/>
<polygon points="509,354.5 516.8,363 509,371.5 501.2,363" fill="#999999"/>
<polygon points="589.1,341.6 596.9,350.1 589.1,358.6 581.3,350.1" fill="#999999"/>
<polygon points="669.2,412.9 677,421.4 669.2,429.9 661.4,421.4" fill="#999999"/>
<polygon points="749.3,426.6 757.1,435.1 749.3,443.6 741.5,435.1" fill="#999999"/>
<polygon points="829.4,480.5 837.2,489 829.4,497.5 821.6,489" fill="#999999"/>
<polygon points="909.5,470 917.3,478.5 909.5,487 901.7,478.5" fill="#999999"/>
</g>
<rect x="107.1" y="102.9" width="846.8" height="486" fill="none" stroke="#000" stroke-width="1.67"/>
<g stroke="#000" stroke-width="1.67">
<line x1="107.1" y1="588.9" x2="107.1" y2="596.2"/>
<line x1="236.2" y1="588.9" x2="236.2" y2="596.2"/>
<line x1="365.3" y1="588.9" x2="365.3" y2="596.2"/>
<line x1="494.4" y1="588.9" x2="494.4" y2="596.2"/>
<line x1="623.5" y1="588.9" x2="623.5" y2="596.2"/>
<line x1="752.6" y1="588.9" x2="752.6" y2="596.2"/>
<line x1="881.7" y1="588.9" x2="881.7" y2="596.2"/>
<line x1="99.8" y1="256.9" x2="107.1" y2="256.9"/>
<line x1="99.8" y1="516" x2="107.1" y2="516"/>
</g>
<g stroke="#000" stroke-width="1.25">
<line x1="102.9" y1="573.6" x2="107.1" y2="573.6"/>
<line x1="102.9" y1="556.2" x2="107.1" y2="556.2"/>
<line x1="102.9" y1="541.2" x2="107.1" y2="541.2"/>
<line x1="102.9" y1="527.9" x2="107.1" y2="527.9"/>
<line x1="102.9" y1="438" x2="107.1" y2="438"/>
<line x1="102.9" y1="392.4" x2="107.1" y2="392.4"/>
<line x1="102.9" y1="360" x2="107.1" y2="360"/>
<line x1="102.9" y1="334.9" x2="107.1" y2="334.9"/>
<line x1="102.9" y1="314.4" x2="107.1" y2="314.4"/>
<line x1="102.9" y1="297" x2="107.1" y2="297"/>
<line x1="102.9" y1="282" x2="107.1" y2="282"/>
<line x1="102.9" y1="268.7" x2="107.1" y2="268.7"/>
<line x1="102.9" y1="178.8" x2="107.1" y2="178.8"/>
<line x1="102.9" y1="133.2" x2="107.1" y2="133.2"/>
</g>
<text x="100.5" y="620" font-size="21.3" text-anchor="start" textLength="13.4" lengthAdjust="spacingAndGlyphs">0</text>
<text x="216.8" y="620" font-size="21.3" text-anchor="start" textLength="39.1" lengthAdjust="spacingAndGlyphs">100</text>
<text x="345.9" y="620" font-size="21.3" text-anchor="start" textLength="39.1" lengthAdjust="spacingAndGlyphs">200</text>
<text x="475" y="620" font-size="21.3" text-anchor="start" textLength="39.1" lengthAdjust="spacingAndGlyphs">300</text>
<text x="604.1" y="620" font-size="21.3" text-anchor="start" textLength="39.1" lengthAdjust="spacingAndGlyphs">400</text>
<text x="733.2" y="620" font-size="21.3" text-anchor="start" textLength="39.1" lengthAdjust="spacingAndGlyphs">500</text>
<text x="862.3" y="620" font-size="21.3" text-anchor="start" textLength="39.1" lengthAdjust="spacingAndGlyphs">600</text>
<text x="56.4" y="265.9" font-size="21.3" text-anchor="start" textLength="24.6" lengthAdjust="spacingAndGlyphs">10</text>
<text x="81.8" y="256.7" font-size="14.9" text-anchor="start" textLength="9.3" lengthAdjust="spacingAndGlyphs">0</text>
<text x="44.8" y="525" font-size="21.3" text-anchor="start" textLength="24.6" lengthAdjust="spacingAndGlyphs">10</text>
<text x="71" y="515.8" font-size="14.9" text-anchor="start" textLength="20.8" lengthAdjust="spacingAndGlyphs">−1</text>
<g stroke="#b0b0b0" stroke-opacity="0.5" stroke-width="1.67">
<line x1="1200.1" y1="102.9" x2="1200.1" y2="588.9"/>
<line x1="1329.2" y1="102.9" x2="1329.2" y2="588.9"/>
<line x1="1458.3" y1="102.9" x2="1458.3" y2="588.9"/>
<line x1="1587.4" y1="102.9" x2="1587.4" y2="588.9"/>
<line x1="1716.5" y1="102.9" x2="1716.5" y2="588.9"/>
<line x1="1845.6" y1="102.9" x2="1845.6" y2="588.9"/>
<line x1="1071" y1="138.8" x2="1918" y2="138.8"/>
<line x1="1071" y1="321.9" x2="1918" y2="321.9"/>
<line x1="1071" y1="504.9" x2="1918" y2="504.9"/>
</g>
<g clip-path="url(#clipR)" fill="none" stroke-linejoin="round">
<path d="M1072.3 385.2L1073.6 349.4L1074.9 427.3L1076.2 385.5L1077.5 357.7L1078.7 377.4L1080 382.3L1081.3 468.3L1082.6 380L1083.9 365.9L1085.2 359.4L1086.5 334.7L1087.8 328.2L1089.1 359.4L1090.4 444.6L1091.7 369.3L1092.9 366.6L1094.2 380.2L1095.5 370.5L1096.8 379.1L1098.1 372.5L1099.4 475.2L1100.7 402.5L1102 382.8L1103.3 349.3L1104.6 365.8L1105.9 383.4L1107.1 359.7L1108.4 382.6L1109.7 338.8L1111 427.7L1112.3 356.5L1113.6 350.6L1114.9 364L1116.2 315L1117.5 434.9L1118.8 375L1120.1 374.8L1121.3 414.2L1122.6 336.7L1123.9 361.8L1125.2 431.7L1126.5 351.9L1127.8 420.3L1129.1 412.1L1130.4 448L1131.7 340.9L1133 390.4L1134.3 362.7L1135.5 378.8L1136.8 380.1L1138.1 372.6L1139.4 380L1140.7 324.6L1142 382.1L1143.3 375.4L1144.6 362.1L1145.9 391.8L1147.2 444.9L1148.5 358.4L1149.8 461.3L1151 362.5L1152.3 376.5L1153.6 436.9L1154.9 381L1156.2 334.9L1157.5 321.2L1158.8 395.8L1160.1 353.2L1161.4 355.2L1162.7 430.6L1164 378.9L1165.2 425.8L1166.5 354.5L1167.8 390.1L1169.1 371.6L1170.4 354.4L1171.7 396L1173 397.1L1174.3 381.9L1175.6 401.7L1176.9 436.8L1178.2 450.9L1179.4 419L1180.7 363.5L1182 330.9L1183.3 417.7L1184.6 410.6L1185.9 406.7L1187.2 431.8L1188.5 399.5L1189.8 379.8L1191.1 360.1L1192.4 457.4L1193.6 443.8L1194.9 405.9L1196.2 360.3L1197.5 372.8L1198.8 428.8L1200.1 385.1L1201.4 390L1202.7 419.8L1204 358.7L1205.3 358.4L1206.6 382.1L1207.8 426.5L1209.1 401.1L1210.4 421L1211.7 456.4L1213 452.9L1214.3 346.5L1215.6 349.2L1216.9 387.8L1218.2 455L1219.5 382.5L1220.8 370.5L1222 360.9L1223.3 372.4L1224.6 346.7L1225.9 374.8L1227.2 336.9L1228.5 389.5L1229.8 429.1L1231.1 363.5L1232.4 395.6L1233.7 417.5L1235 372.6L1236.2 342.2L1237.5 367.3L1238.8 374.3L1240.1 362.6L1241.4 357.1L1242.7 381.7L1244 362.8L1245.3 424.7L1246.6 459.3L1247.9 390.3L1249.2 437.1L1250.4 430L1251.7 401.5L1253 397.2L1254.3 446.7L1255.6 404.8L1256.9 383.9L1258.2 379.6L1259.5 439.7L1260.8 412.7L1262.1 385.9L1263.4 385L1264.7 415.7L1265.9 403.4L1267.2 357L1268.5 453.1L1269.8 373.7L1271.1 376.1L1272.4 411L1273.7 381.4L1275 457.4L1276.3 399.9L1277.6 406.9L1278.9 366.8L1280.1 363.3L1281.4 440.1L1282.7 440.9L1284 361.2L1285.3 432.2L1286.6 382L1287.9 398.1L1289.2 426.7L1290.5 426.3L1291.8 380.3L1293.1 373.2L1294.3 438.5L1295.6 371.2L1296.9 364.7L1298.2 423.7L1299.5 404.2L1300.8 405.3L1302.1 391.8L1303.4 391.1L1304.7 465.9L1306 352.2L1307.3 406.3L1308.5 374.4L1309.8 398.3L1311.1 381L1312.4 404L1313.7 385.7L1315 382.4L1316.3 481.6L1317.6 427.9L1318.9 413.5L1320.2 413L1321.5 452.8L1322.7 402.5L1324 411.5L1325.3 413.9L1326.6 409.1L1327.9 446.5L1329.2 361.7L1330.5 423.6L1331.8 412.7L1333.1 381.3L1334.4 360.8L1335.7 464.9L1336.9 419L1338.2 344.4L1339.5 373.6L1340.8 394.6L1342.1 391.1L1343.4 345.8L1344.7 381.2L1346 406.9L1347.3 394.6L1348.6 360L1349.9 347.4L1351.1 374.7L1352.4 453.2L1353.7 442L1355 415L1356.3 457.3L1357.6 449.9L1358.9 410.3L1360.2 447.3L1361.5 383.9L1362.8 397.6L1364.1 436.6L1365.3 346L1366.6 415.3L1367.9 461.2L1369.2 476L1370.5 392.4L1371.8 449.5L1373.1 431.8L1374.4 411.9L1375.7 375.1L1377 387.5L1378.3 396L1379.5 412.3L1380.8 405.6L1382.1 394.2L1383.4 377.9L1384.7 416.2L1386 458.1L1387.3 401L1388.6 450.9L1389.9 427.9L1391.2 415.3L1392.5 389L1393.8 434.4L1395 380.7L1396.3 393.7L1397.6 367.9L1398.9 415.6L1400.2 413.5L1401.5 431.8L1402.8 412.3L1404.1 407.9L1405.4 354.5L1406.7 414.2L1408 402.6L1409.2 409.3L1410.5 406.9L1411.8 376.4L1413.1 426.2L1414.4 367.4L1415.7 451L1417 371.9L1418.3 410.5L1419.6 460.1L1420.9 482.3L1422.2 427.3L1423.4 430.4L1424.7 481.3L1426 418.3L1427.3 457.3L1428.6 464.9L1429.9 427.2L1431.2 440.8L1432.5 471.7L1433.8 422.6L1435.1 437.9L1436.4 427L1437.6 458.4L1438.9 486.2L1440.2 450.6L1441.5 450.9L1442.8 438.7L1444.1 402.7L1445.4 437.6L1446.7 428.5L1448 398.4L1449.3 420.3L1450.6 480.5L1451.8 487.5L1453.1 461L1454.4 481.4L1455.7 469.9L1457 438.5L1458.3 452.6L1459.6 439.9L1460.9 433.6L1462.2 472.3L1463.5 419.2L1464.8 414.4L1466 431.6L1467.3 412.7L1468.6 442.2L1469.9 464.2L1471.2 393.9L1472.5 411.3L1473.8 473.8L1475.1 460.7L1476.4 487.2L1477.7 431.1L1479 426.6L1480.2 406.9L1481.5 455.8L1482.8 435.1L1484.1 401.9L1485.4 429.8L1486.7 397.6L1488 470.7L1489.3 450.6L1490.6 431.4L1491.9 403.5L1493.2 442.2L1494.4 412.2L1495.7 416.2L1497 450.4L1498.3 416L1499.6 436.3L1500.9 433.1L1502.2 461.5L1503.5 401.2L1504.8 412.6L1506.1 435.7L1507.4 429.3L1508.6 501.4L1509.9 466.9L1511.2 439.1L1512.5 410.8L1513.8 472.9L1515.1 429.8L1516.4 438.5L1517.7 412.1L1519 390L1520.3 441.2L1521.6 444.7L1522.8 411.5L1524.1 412.7L1525.4 439.5L1526.7 430.2L1528 412.1L1529.3 396.6L1530.6 407.2L1531.9 457.8L1533.2 418.3L1534.5 427.3L1535.8 426.9L1537.1 444.9L1538.3 431L1539.6 490.9L1540.9 428.3L1542.2 457.6L1543.5 440.2L1544.8 469.7L1546.1 431.5L1547.4 437.2L1548.7 453.4L1550 427.9L1551.3 489.9L1552.5 413.5L1553.8 469.8L1555.1 476.5L1556.4 440.1L1557.7 421.1L1559 464.4L1560.3 450L1561.6 485.4L1562.9 451.2L1564.2 436.2L1565.5 478.5L1566.7 434.9L1568 411.7L1569.3 452.7L1570.6 444.8L1571.9 502.3L1573.2 455.8L1574.5 485.5L1575.8 451.4L1577.1 486.5L1578.4 468.8L1579.7 477.8L1580.9 467.2L1582.2 454L1583.5 455.3L1584.8 488.1L1586.1 451.3L1587.4 493.8L1588.7 435.5L1590 469.7L1591.3 496.2L1592.6 450.4L1593.9 422.6L1595.1 439.6L1596.4 473.1L1597.7 500.1L1599 460.1L1600.3 433.5L1601.6 429.3L1602.9 439.4L1604.2 451L1605.5 477.2L1606.8 454.9L1608.1 480.8L1609.3 456.4L1610.6 446.1L1611.9 492.2L1613.2 448.1L1614.5 436.7L1615.8 429.4L1617.1 489.1L1618.4 436.7L1619.7 442.7L1621 456.8L1622.3 455.9L1623.5 491.1L1624.8 463.2L1626.1 480.3L1627.4 435.4L1628.7 439.8L1630 459.3L1631.3 491.2L1632.6 487.7L1633.9 492.8L1635.2 435.5L1636.5 458.4L1637.7 440.7L1639 445L1640.3 490L1641.6 486.7L1642.9 461.7L1644.2 456.2L1645.5 438.8L1646.8 465.2L1648.1 412.6L1649.4 462.2L1650.7 420.6L1651.9 465.9L1653.2 466.8L1654.5 477.4L1655.8 428.9L1657.1 501.8L1658.4 408.7L1659.7 445.1L1661 471.5L1662.3 444.2L1663.6 441.3L1664.9 443.7L1666.2 454.8L1667.4 448.2L1668.7 455.7L1670 468L1671.3 460.8L1672.6 443.7L1673.9 459.5L1675.2 416.4L1676.5 473.3L1677.8 445.7L1679.1 446.1L1680.4 422.9L1681.6 441L1682.9 451.9L1684.2 448.6L1685.5 468.7L1686.8 501.9L1688.1 484.4L1689.4 449.3L1690.7 463.4L1692 435L1693.3 451.8L1694.6 459.2L1695.8 458.1L1697.1 469.4L1698.4 477.5L1699.7 439.6L1701 462.9L1702.3 468.6L1703.6 457.5L1704.9 437.9L1706.2 491.8L1707.5 462.1L1708.8 488.7L1710 487.9L1711.3 490.4L1712.6 469L1713.9 462.7L1715.2 496.2L1716.5 451.1L1717.8 462.1L1719.1 498.5L1720.4 455.5L1721.7 451.4L1723 459.9L1724.2 502.5L1725.5 495.8L1726.8 465.2L1728.1 477.6L1729.4 468.9L1730.7 463L1732 480.2L1733.3 466.4L1734.6 504.6L1735.9 459.7L1737.2 475.9L1738.4 493.7L1739.7 496.4L1741 451.1L1742.3 484.5L1743.6 497.4L1744.9 509.4L1746.2 514.9L1747.5 481.3L1748.8 485.4L1750.1 509.3L1751.4 499.7L1752.6 483.7L1753.9 472.3L1755.2 456L1756.5 454.8L1757.8 478.1L1759.1 474.8L1760.4 486.7L1761.7 495.6L1763 500.5L1764.3 513.6L1765.6 485.5L1766.8 498.7L1768.1 477.4L1769.4 480.8L1770.7 475.7L1772 486.6L1773.3 489.8L1774.6 491.7L1775.9 485.3L1777.2 480.1L1778.5 487.8L1779.8 470.8L1781 518.1L1782.3 494.9L1783.6 463.8L1784.9 490.2L1786.2 511.5L1787.5 477L1788.8 471.2L1790.1 482.1L1791.4 467.7L1792.7 491.8L1794 487.4L1795.3 482.5L1796.5 477.5L1797.8 451L1799.1 466.1L1800.4 474.5L1801.7 467.2L1803 465.7L1804.3 517.1L1805.6 467.4L1806.9 453.8L1808.2 491.7L1809.5 489L1810.7 475.9L1812 480.5L1813.3 519.9L1814.6 481.3L1815.9 493.1L1817.2 494.2L1818.5 489.1L1819.8 485.8L1821.1 507.1L1822.4 491.1L1823.7 487L1824.9 463.4L1826.2 487.9L1827.5 458.9L1828.8 490.2L1830.1 473.9L1831.4 479.2L1832.7 472.4L1834 463.1L1835.3 483.5L1836.6 502.4L1837.9 505.2L1839.1 467.9L1840.4 469.1L1841.7 516.2L1843 529L1844.3 483.7L1845.6 488.5L1846.9 483.1L1848.2 500.1L1849.5 473.3L1850.8 477L1852.1 507.6L1853.3 465.9L1854.6 502.1L1855.9 490.1L1857.2 495.4L1858.5 485.1L1859.8 468.8L1861.1 485.8L1862.4 489.6L1863.7 501.5L1865 472.6L1866.3 480.8L1867.5 515.3L1868.8 487.3L1870.1 476.7L1871.4 482.6L1872.7 464.2L1874 489.7L1875.3 481.8L1876.6 516.4L1877.9 488.2" stroke="#333333" stroke-opacity="0.26" stroke-width="1.0" stroke-dasharray="3.5 1.5" stroke-linejoin="miter"/>
<path d="M1072.3 356.9L1073.6 365L1074.9 369.8L1076.2 371.5L1077.5 371.9L1078.7 372.2L1080 372.6L1081.3 373.3L1082.6 374.3L1083.9 375.2L1085.2 376.1L1086.5 376.1L1087.8 375.3L1089.1 374.6L1090.4 373.9L1091.7 374L1092.9 374.9L1094.2 375.8L1095.5 376.7L1096.8 376.9L1098.1 376.1L1099.4 375.3L1100.7 374.5L1102 373.7L1103.3 373.8L1104.6 374.3L1105.9 374.7L1107.1 375.1L1108.4 375.6L1109.7 374.8L1111 374.9L1112.3 372.1L1113.6 368.9L1114.9 367.6L1116.2 367.8L1117.5 368.3L1118.8 368.7L1120.1 369L1121.3 370.4L1122.6 371.7L1123.9 372.9L1125.2 373.9L1126.5 375.5L1127.8 376.2L1129.1 377L1130.4 378.8L1131.7 378.9L1133 379L1134.3 379.7L1135.5 378.1L1136.8 377.5L1138.1 377.6L1139.4 376L1140.7 374.7L1142 374.7L1143.3 376.3L1144.6 377.7L1145.9 378.1L1147.2 377.8L1148.5 377.2L1149.8 377L1151 377.9L1152.3 378L1153.6 376.7L1154.9 375.1L1156.2 373.8L1157.5 372.8L1158.8 371.3L1160.1 370.6L1161.4 370.9L1162.7 372.9L1164 374.5L1165.2 376L1166.5 377.3L1167.8 377.8L1169.1 377.1L1170.4 376.9L1171.7 378.3L1173 379.7L1174.3 379.9L1175.6 378.7L1176.9 377.5L1178.2 376.7L1179.4 376L1180.7 379.8L1182 381.8L1183.3 383.1L1184.6 385.4L1185.9 386.2L1187.2 386.8L1188.5 387.7L1189.8 388.6L1191.1 389.8L1192.4 388.6L1193.6 386.6L1194.9 387L1196.2 386.8L1197.5 385.7L1198.8 384.4L1200.1 382.9L1201.4 382.7L1202.7 383.2L1204 383.9L1205.3 384.3L1206.6 383.1L1207.8 381.8L1209.1 381.7L1210.4 381.3L1211.7 380.6L1213 381.4L1214.3 382.3L1215.6 382.7L1216.9 382L1218.2 381.1L1219.5 382L1220.8 383.6L1222 384.5L1223.3 385.1L1224.6 385.8L1225.9 387.3L1227.2 388.2L1228.5 387.7L1229.8 388.2L1231.1 390.1L1232.4 392.2L1233.7 394.4L1235 396L1236.2 397.7L1237.5 399.4L1238.8 399.6L1240.1 399L1241.4 399.5L1242.7 400.5L1244 400.8L1245.3 401.2L1246.6 401.7L1247.9 402.4L1249.2 402.7L1250.4 402.5L1251.7 401.8L1253 402.6L1254.3 405L1255.6 407.6L1256.9 408.4L1258.2 407.6L1259.5 407.6L1260.8 408.7L1262.1 407.9L1263.4 407.1L1264.7 407.2L1265.9 407.2L1267.2 407.1L1268.5 408.7L1269.8 410.7L1271.1 411.3L1272.4 410.5L1273.7 410.6L1275 410.6L1276.3 409.3L1277.6 407.6L1278.9 406.1L1280.1 405.9L1281.4 406.4L1282.7 407.1L1284 408.1L1285.3 409.2L1286.6 409.8L1287.9 408.5L1289.2 407.5L1290.5 408.8L1291.8 410.1L1293.1 409.4L1294.3 408.9L1295.6 409.9L1296.9 410.2L1298.2 409.7L1299.5 409.8L1300.8 410.4L1302.1 410.8L1303.4 410.4L1304.7 409.9L1306 409.2L1307.3 407.4L1308.5 406.5L1309.8 407.1L1311.1 407.6L1312.4 407L1313.7 405.9L1315 406.6L1316.3 408.8L1317.6 410.2L1318.9 410.9L1320.2 411.7L1321.5 412.2L1322.7 408.9L1324 405.9L1325.3 404.3L1326.6 403.2L1327.9 401.8L1329.2 399.8L1330.5 397.6L1331.8 396.9L1333.1 396.6L1334.4 395.6L1335.7 395.8L1336.9 397.3L1338.2 398.3L1339.5 398.3L1340.8 398.2L1342.1 397.1L1343.4 396L1344.7 394.2L1346 391.8L1347.3 391.3L1348.6 394L1349.9 396.2L1351.1 397.9L1352.4 398.3L1353.7 399.3L1355 400.7L1356.3 400.5L1357.6 400.5L1358.9 401.3L1360.2 401.7L1361.5 402.1L1362.8 404.1L1364.1 406.3L1365.3 407.1L1366.6 407.5L1367.9 408.5L1369.2 408.1L1370.5 407.2L1371.8 408.2L1373.1 410L1374.4 410.8L1375.7 410.3L1377 408.8L1378.3 406.7L1379.5 404.8L1380.8 404.2L1382.1 404.3L1383.4 402.7L1384.7 400.8L1386 399.7L1387.3 398.9L1388.6 398.9L1389.9 399.4L1391.2 399.1L1392.5 398.7L1393.8 397.6L1395 395.9L1396.3 396.2L1397.6 397.5L1398.9 398.3L1400.2 398.8L1401.5 398.9L1402.8 398.4L1404.1 399.2L1405.4 401.4L1406.7 402.5L1408 402.8L1409.2 403.5L1410.5 405L1411.8 408.3L1413.1 411.3L1414.4 411.6L1415.7 411.8L1417 413.8L1418.3 415.4L1419.6 415L1420.9 414.7L1422.2 415.1L1423.4 416.2L1424.7 417.8L1426 419.5L1427.3 420.4L1428.6 420.6L1429.9 421.3L1431.2 422.6L1432.5 424.2L1433.8 426.7L1435.1 427.9L1436.4 427.3L1437.6 428L1438.9 428.7L1440.2 428.7L1441.5 429.4L1442.8 431L1444.1 432L1445.4 433.5L1446.7 435.4L1448 436.1L1449.3 437.6L1450.6 439.1L1451.8 439.7L1453.1 439.9L1454.4 439.9L1455.7 438.6L1457 438.1L1458.3 439.5L1459.6 440.5L1460.9 440.7L1462.2 439.4L1463.5 438.1L1464.8 436.8L1466 435.1L1467.3 433.4L1468.6 432.6L1469.9 432.6L1471.2 431.9L1472.5 430.7L1473.8 430.1L1475.1 429.5L1476.4 429.8L1477.7 430.8L1479 430.7L1480.2 429.3L1481.5 427.7L1482.8 425.9L1484.1 425L1485.4 425.2L1486.7 426.3L1488 427.8L1489.3 430L1490.6 432L1491.9 434.4L1493.2 436.6L1494.4 438L1495.7 436.6L1497 433.7L1498.3 430.5L1499.6 429.1L1500.9 430.2L1502.2 431.4L1503.5 430.6L1504.8 428.9L1506.1 429.7L1507.4 430.9L1508.6 430.9L1509.9 431L1511.2 431.6L1512.5 431.3L1513.8 430.2L1515.1 430L1516.4 431.1L1517.7 429.8L1519 426.9L1520.3 425.2L1521.6 425L1522.8 426.2L1524.1 427.5L1525.4 429.4L1526.7 431.3L1528 430.5L1529.3 427.5L1530.6 425.6L1531.9 424.9L1533.2 425L1534.5 424.9L1535.8 425.5L1537.1 427.9L1538.3 429.5L1539.6 429.4L1540.9 429.3L1542.2 429.4L1543.5 429.6L1544.8 430.9L1546.1 432.4L1547.4 434.5L1548.7 437.4L1550 439.3L1551.3 440.5L1552.5 442.4L1553.8 444.9L1555.1 446.8L1556.4 447L1557.7 446.3L1559 445.9L1560.3 445.9L1561.6 446.7L1562.9 447.9L1564.2 448.7L1565.5 451L1566.7 453.5L1568 453.4L1569.3 453.1L1570.6 454.7L1571.9 455.2L1573.2 455L1574.5 456.5L1575.8 459L1577.1 459.5L1578.4 457.9L1579.7 455.8L1580.9 454.8L1582.2 455.3L1583.5 456.4L1584.8 457.4L1586.1 458.5L1587.4 459.9L1588.7 460.4L1590 460.8L1591.3 460.6L1592.6 460.2L1593.9 461.1L1595.1 462.5L1596.4 462.3L1597.7 460.8L1599 459.3L1600.3 458.1L1601.6 456.9L1602.9 456.5L1604.2 455.8L1605.5 454.6L1606.8 455.3L1608.1 456.6L1609.3 457.7L1610.6 458.5L1611.9 459.3L1613.2 458.3L1614.5 456.2L1615.8 453.6L1617.1 452.8L1618.4 452L1619.7 451.9L1621 452.4L1622.3 453.4L1623.5 454.5L1624.8 453.4L1626.1 451.8L1627.4 451L1628.7 451L1630 452L1631.3 452.9L1632.6 451.8L1633.9 448.9L1635.2 447.7L1636.5 449.3L1637.7 450.4L1639 449.9L1640.3 450.2L1641.6 451.1L1642.9 451.3L1644.2 452.2L1645.5 452.1L1646.8 450.5L1648.1 450.8L1649.4 451.5L1650.7 451.2L1651.9 451.3L1653.2 451.5L1654.5 450.9L1655.8 449.9L1657.1 448.9L1658.4 449L1659.7 449.6L1661 448.9L1662.3 448.2L1663.6 448.5L1664.9 448.6L1666.2 447.7L1667.4 446.7L1668.7 447.3L1670 448.9L1671.3 449.8L1672.6 449.1L1673.9 447.3L1675.2 445.9L1676.5 446.1L1677.8 448.1L1679.1 450.4L1680.4 451.4L1681.6 451.8L1682.9 454L1684.2 455.8L1685.5 455.8L1686.8 456.1L1688.1 456.6L1689.4 457.7L1690.7 459L1692 459.5L1693.3 459.9L1694.6 460.6L1695.8 460.5L1697.1 460.3L1698.4 460.6L1699.7 460.7L1701 461.2L1702.3 461.4L1703.6 459.5L1704.9 457.1L1706.2 456.7L1707.5 458.6L1708.8 460.5L1710 462.3L1711.3 463.4L1712.6 463.9L1713.9 466L1715.2 468.5L1716.5 470.3L1717.8 471.4L1719.1 471.6L1720.4 471.3L1721.7 471.1L1723 471.7L1724.2 472.8L1725.5 474.3L1726.8 475.2L1728.1 474.8L1729.4 475.4L1730.7 476.7L1732 475.7L1733.3 475.5L1734.6 477L1735.9 478.2L1737.2 480.3L1738.4 482.3L1739.7 482.8L1741 482.8L1742.3 484.1L1743.6 484.3L1744.9 483.4L1746.2 481.5L1747.5 480L1748.8 479L1750.1 479.2L1751.4 480.5L1752.6 481.6L1753.9 481.6L1755.2 480L1756.5 479.6L1757.8 480.9L1759.1 481.8L1760.4 482L1761.7 481.6L1763 481.9L1764.3 483.9L1765.6 486.6L1766.8 487.9L1768.1 487.7L1769.4 488.3L1770.7 490.1L1772 490.7L1773.3 489.7L1774.6 490.4L1775.9 492.5L1777.2 494L1778.5 494.7L1779.8 492.1L1781 489.2L1782.3 488L1783.6 486.9L1784.9 485.5L1786.2 484.3L1787.5 483.3L1788.8 482L1790.1 481.9L1791.4 482.3L1792.7 481.9L1794 481.2L1795.3 479.4L1796.5 478.3L1797.8 478.4L1799.1 478.9L1800.4 478.6L1801.7 477.5L1803 477.4L1804.3 478.3L1805.6 480.5L1806.9 482.4L1808.2 483.8L1809.5 484.6L1810.7 486L1812 485.6L1813.3 484.7L1814.6 484.9L1815.9 485L1817.2 484.4L1818.5 483.8L1819.8 482.5L1821.1 480.3L1822.4 479.4L1823.7 480.3L1824.9 481.6L1826.2 482.4L1827.5 483.1L1828.8 483.6L1830.1 483.1L1831.4 481.5L1832.7 480.8L1834 480.6L1835.3 479.4L1836.6 477.7L1837.9 477.2L1839.1 479L1840.4 480.4L1841.7 480.3L1843 481.2L1844.3 482.1L1845.6 482.2L1846.9 481.9L1848.2 480.8L1849.5 481.3L1850.8 482.3L1852.1 482.4L1853.3 483.1L1854.6 484.6L1855.9 485.8L1857.2 485.9L1858.5 486.5L1859.8 488.6L1861.1 490.6L1862.4 489.6L1863.7 487.8L1865 487.4L1866.3 488.8L1867.5 489.4L1868.8 488.3L1870.1 485.4L1871.4 482.9L1872.7 481.4L1874 481.2L1875.3 482.1L1876.6 482.2L1877.9 481.9" stroke="#333333" stroke-width="4.35" stroke-dasharray="15.4 6.7" stroke-linecap="butt"/>
<rect x="1064.5" y="341.1" width="13.8" height="13.8" fill="#333333"/>
<rect x="1144.7" y="371.8" width="13.8" height="13.8" fill="#333333"/>
<rect x="1224.8" y="383.7" width="13.8" height="13.8" fill="#333333"/>
<rect x="1305" y="400.7" width="13.8" height="13.8" fill="#333333"/>
<rect x="1385.1" y="390.6" width="13.8" height="13.8" fill="#333333"/>
<rect x="1465.3" y="424.5" width="13.8" height="13.8" fill="#333333"/>
<rect x="1545.5" y="434.2" width="13.8" height="13.8" fill="#333333"/>
<rect x="1625.6" y="443.7" width="13.8" height="13.8" fill="#333333"/>
<rect x="1705.8" y="459.3" width="13.8" height="13.8" fill="#333333"/>
<rect x="1785.9" y="472.9" width="13.8" height="13.8" fill="#333333"/>
<rect x="1866.1" y="475.7" width="13.8" height="13.8" fill="#333333"/>
<path d="M1072.3 131.7L1073.6 132.8L1074.9 133.9L1076.2 136.3L1077.5 139.7L1078.7 144.4L1080 149.3L1081.3 158.5L1082.6 167.7L1083.9 176.8L1085.2 185.4L1086.5 194.1L1087.8 206.1L1089.1 220.3L1090.4 234.4L1091.7 247.2L1092.9 259.8L1094.2 272.1L1095.5 283.4L1096.8 294.1L1098.1 305.2L1099.4 341.5L1100.7 329.7L1102 318.8L1103.3 322L1104.6 323.4L1105.9 338.4L1107.1 336L1108.4 340L1109.7 340.9L1111 402.8L1112.3 327L1113.6 335.1L1114.9 359.4L1116.2 312.2L1117.5 416.3L1118.8 359.6L1120.1 347.2L1121.3 368.3L1122.6 302.7L1123.9 340.4L1125.2 400.8L1126.5 316.3L1127.8 407.2L1129.1 383.5L1130.4 400L1131.7 305.2L1133 367.9L1134.3 335.1L1135.5 354.1L1136.8 361.8L1138.1 337.5L1139.4 357.9L1140.7 321.6L1142 351.8L1143.3 355.1L1144.6 345.8L1145.9 367.9L1147.2 413.6L1148.5 347.9L1149.8 433.1L1151 359.7L1152.3 373.8L1153.6 436L1154.9 359.2L1156.2 334.7L1157.5 295.1L1158.8 358.6L1160.1 348.1L1161.4 354.8L1162.7 412L1164 368.6L1165.2 402.8L1166.5 341.2L1167.8 361.2L1169.1 363.9L1170.4 346.5L1171.7 365.2L1173 365.7L1174.3 367.9L1175.6 396.9L1176.9 431.3L1178.2 423.3L1179.4 396.9L1180.7 347.4L1182 323.1L1183.3 405.9L1184.6 392.3L1185.9 379.7L1187.2 422.5L1188.5 389.8L1189.8 362.8L1191.1 360L1192.4 439.8L1193.6 446.8L1194.9 389.3L1196.2 341.9L1197.5 380.4L1198.8 408.9L1200.1 393.8L1201.4 390.1L1202.7 409.1L1204 362.1L1205.3 364L1206.6 387.9L1207.8 437.9L1209.1 389.2L1210.4 409.1L1211.7 432.8L1213 442.4L1214.3 327L1215.6 348.5L1216.9 380.8L1218.2 439.6L1219.5 383.3L1220.8 383L1222 362.6L1223.3 365.8L1224.6 336L1225.9 370.1L1227.2 351.7L1228.5 393.3L1229.8 414.2L1231.1 344.1L1232.4 409.6L1233.7 411.5L1235 380.4L1236.2 350.3L1237.5 366.4L1238.8 358.6L1240.1 367.8L1241.4 354.1L1242.7 384.7L1244 355.7L1245.3 432.8L1246.6 444.3L1247.9 382L1249.2 449.4L1250.4 438.5L1251.7 401.5L1253 410.9L1254.3 454.2L1255.6 414.5L1256.9 390.4L1258.2 379.6L1259.5 451.8L1260.8 422.5L1262.1 385L1263.4 391.6L1264.7 395.4L1265.9 401.7L1267.2 363L1268.5 465.4L1269.8 382.7L1271.1 369.1L1272.4 426.7L1273.7 375.8L1275 451.2L1276.3 409.2L1277.6 401.7L1278.9 364.8L1280.1 374.5L1281.4 434.6L1282.7 436.1L1284 368.9L1285.3 443.1L1286.6 387.5L1287.9 411.6L1289.2 426.3L1290.5 426L1291.8 401.3L1293.1 381.4L1294.3 426.3L1295.6 384.2L1296.9 360.5L1298.2 430.8L1299.5 416.8L1300.8 416.6L1302.1 399.1L1303.4 392.7L1304.7 466.7L1306 356.6L1307.3 407.2L1308.5 396.9L1309.8 388.4L1311.1 397.1L1312.4 409.9L1313.7 385.5L1315 380.2L1316.3 485.4L1317.6 425.4L1318.9 421.4L1320.2 431.7L1321.5 446.2L1322.7 425.2L1324 403.7L1325.3 403.1L1326.6 408L1327.9 434.3L1329.2 364.8L1330.5 434.1L1331.8 420.4L1333.1 369.5L1334.4 361.3L1335.7 463.9L1336.9 413.5L1338.2 358.5L1339.5 398.5L1340.8 408L1342.1 418.2L1343.4 350.3L1344.7 378.9L1346 404.4L1347.3 405.6L1348.6 367.8L1349.9 359L1351.1 384.9L1352.4 461.7L1353.7 449.7L1355 418L1356.3 457.1L1357.6 445.3L1358.9 415.9L1360.2 460.4L1361.5 366.7L1362.8 386.1L1364.1 432.8L1365.3 355.6L1366.6 416.7L1367.9 457.3L1369.2 481.2L1370.5 388.4L1371.8 448.7L1373.1 434.8L1374.4 405.5L1375.7 398.5L1377 396.1L1378.3 398.8L1379.5 426.4L1380.8 412.3L1382.1 406.5L1383.4 375.6L1384.7 420.8L1386 468L1387.3 403.8L1388.6 466.3L1389.9 431.8L1391.2 404.8L1392.5 388.5L1393.8 458.3L1395 387L1396.3 408.7L1397.6 382.6L1398.9 429.4L1400.2 410.5L1401.5 439.3L1402.8 428.8L1404.1 402.4L1405.4 364L1406.7 421.5L1408 405.9L1409.2 421.4L1410.5 420.4L1411.8 392.6L1413.1 448.6L1414.4 381.1L1415.7 452.1L1417 370.3L1418.3 430.2L1419.6 453.9L1420.9 481.3L1422.2 436.3L1423.4 438.9L1424.7 470.4L1426 410.5L1427.3 445.5L1428.6 465.2L1429.9 447L1431.2 435.7L1432.5 482.2L1433.8 437.5L1435.1 439.5L1436.4 442.1L1437.6 476.3L1438.9 500.4L1440.2 464.2L1441.5 460.2L1442.8 450.4L1444.1 413.5L1445.4 441.5L1446.7 454.4L1448 422.7L1449.3 419.9L1450.6 492.3L1451.8 510L1453.1 454.6L1454.4 480.3L1455.7 480.2L1457 446.3L1458.3 444L1459.6 452.3L1460.9 436.3L1462.2 460.8L1463.5 425.4L1464.8 433.1L1466 442.2L1467.3 420.7L1468.6 458.5L1469.9 486.6L1471.2 428.2L1472.5 415.1L1473.8 484.7L1475.1 475.9L1476.4 486.3L1477.7 443.7L1479 441.5L1480.2 440.4L1481.5 470.5L1482.8 432L1484.1 415.3L1485.4 443.3L1486.7 423.2L1488 476L1489.3 444L1490.6 452.4L1491.9 414.4L1493.2 443.7L1494.4 426.9L1495.7 425.9L1497 470.8L1498.3 419.7L1499.6 441L1500.9 449.4L1502.2 465.1L1503.5 427.3L1504.8 433.3L1506.1 444.2L1507.4 436.9L1508.6 507.1L1509.9 473.7L1511.2 438.1L1512.5 428L1513.8 480.4L1515.1 431.2L1516.4 461.9L1517.7 419.5L1519 402.8L1520.3 455.5L1521.6 454.4L1522.8 417.9L1524.1 425.4L1525.4 429.6L1526.7 444.5L1528 410.6L1529.3 406.3L1530.6 407.1L1531.9 469.3L1533.2 428.4L1534.5 425.1L1535.8 443.1L1537.1 455.3L1538.3 441.6L1539.6 484L1540.9 447.5L1542.2 459.8L1543.5 436.9L1544.8 476.2L1546.1 446.1L1547.4 436.5L1548.7 461L1550 438.4L1551.3 486.7L1552.5 437.3L1553.8 478.9L1555.1 469.1L1556.4 453.6L1557.7 432.7L1559 472.6L1560.3 450L1561.6 493.2L1562.9 453.2L1564.2 440.8L1565.5 481.4L1566.7 452.3L1568 428.3L1569.3 457.6L1570.6 460.9L1571.9 504.1L1573.2 456.3L1574.5 489.6L1575.8 474.7L1577.1 515.6L1578.4 489.9L1579.7 491.2L1580.9 485.5L1582.2 470.4L1583.5 458.4L1584.8 492.9L1586.1 466.6L1587.4 507.6L1588.7 458.3L1590 482.9L1591.3 498.4L1592.6 473.1L1593.9 426.4L1595.1 462.8L1596.4 474.2L1597.7 509.6L1599 478.2L1600.3 457.5L1601.6 447.9L1602.9 455.8L1604.2 463.5L1605.5 488.6L1606.8 465.6L1608.1 489.5L1609.3 473.2L1610.6 469.1L1611.9 505.1L1613.2 466.1L1614.5 443.4L1615.8 453L1617.1 526.6L1618.4 464.4L1619.7 476.6L1621 466.2L1622.3 475.2L1623.5 509L1624.8 484.7L1626.1 501.6L1627.4 450.6L1628.7 460.6L1630 471.6L1631.3 509.3L1632.6 512.8L1633.9 498.5L1635.2 456.2L1636.5 471.3L1637.7 459.4L1639 468.3L1640.3 491.4L1641.6 503L1642.9 485.9L1644.2 466.2L1645.5 457.1L1646.8 480.4L1648.1 433.9L1649.4 474L1650.7 439.9L1651.9 464.2L1653.2 485.7L1654.5 496.3L1655.8 440.4L1657.1 505.6L1658.4 436.3L1659.7 467.5L1661 491.7L1662.3 468.9L1663.6 458.6L1664.9 457.3L1666.2 463.5L1667.4 463.3L1668.7 464.6L1670 488.2L1671.3 478.2L1672.6 464.7L1673.9 475L1675.2 444L1676.5 482.8L1677.8 460.4L1679.1 452.2L1680.4 445.6L1681.6 460.2L1682.9 473.1L1684.2 467.9L1685.5 483.6L1686.8 511.8L1688.1 500.3L1689.4 473.7L1690.7 484.5L1692 451.1L1693.3 477.6L1694.6 474.6L1695.8 467.9L1697.1 490.5L1698.4 485.3L1699.7 459.2L1701 475.7L1702.3 489.4L1703.6 476.8L1704.9 463.8L1706.2 502.8L1707.5 465.7L1708.8 500.8L1710 488.5L1711.3 498.6L1712.6 481.3L1713.9 471.6L1715.2 503.9L1716.5 451.4L1717.8 472.9L1719.1 502.6L1720.4 478.3L1721.7 453.8L1723 481.3L1724.2 525.6L1725.5 506.9L1726.8 475L1728.1 471.6L1729.4 493.9L1730.7 466.9L1732 495.2L1733.3 482.3L1734.6 519.3L1735.9 476.5L1737.2 491.4L1738.4 522.8L1739.7 526.3L1741 468.4L1742.3 506.6L1743.6 511.2L1744.9 537.1L1746.2 535L1747.5 500.2L1748.8 498.1L1750.1 515.3L1751.4 524L1752.6 497.4L1753.9 495.1L1755.2 481L1756.5 468.8L1757.8 501.8L1759.1 493.7L1760.4 505L1761.7 520.8L1763 513L1764.3 521.1L1765.6 504.1L1766.8 504.1L1768.1 499.6L1769.4 493.1L1770.7 487L1772 504.7L1773.3 513.6L1774.6 504.6L1775.9 497.2L1777.2 497.8L1778.5 497.2L1779.8 486L1781 537.5L1782.3 497.4L1783.6 481.4L1784.9 505.3L1786.2 520.3L1787.5 495.7L1788.8 472.6L1790.1 485.6L1791.4 489.9L1792.7 506.5L1794 508.3L1795.3 505.8L1796.5 501.7L1797.8 480.8L1799.1 482.3L1800.4 488.9L1801.7 487L1803 488.5L1804.3 531.9L1805.6 489.9L1806.9 474.2L1808.2 515.3L1809.5 510.4L1810.7 482L1812 496.1L1813.3 527.2L1814.6 495L1815.9 503.6L1817.2 510.5L1818.5 503.2L1819.8 493.6L1821.1 521L1822.4 493.5L1823.7 492.4L1824.9 480.6L1826.2 500.7L1827.5 472.2L1828.8 505.8L1830.1 486.4L1831.4 492.3L1832.7 487.3L1834 476.1L1835.3 497.5L1836.6 512.9L1837.9 529.1L1839.1 495.9L1840.4 483.9L1841.7 529.8L1843 541L1844.3 505L1845.6 513.8L1846.9 501.1L1848.2 513.9L1849.5 501.1L1850.8 488.6L1852.1 519.1L1853.3 486.1L1854.6 521.1L1855.9 501.4L1857.2 517.6L1858.5 500.2L1859.8 482.3L1861.1 504.4L1862.4 506.2L1863.7 514.2L1865 485.1L1866.3 494.7L1867.5 527.2L1868.8 505.2L1870.1 492L1871.4 496.8L1872.7 485.5L1874 499.2L1875.3 499.9L1876.6 533.8L1877.9 500.5" stroke="#666666" stroke-opacity="0.26" stroke-width="1.0" stroke-dasharray="6.1 1.5 1 1.5" stroke-linejoin="miter"/>
<path d="M1072.3 131.2L1073.6 131.4L1074.9 132L1076.2 132.7L1077.5 133.4L1078.7 134.8L1080 136.6L1081.3 138.5L1082.6 141.2L1083.9 144.2L1085.2 147.4L1086.5 150.6L1087.8 153.9L1089.1 156.5L1090.4 159.1L1091.7 161.6L1092.9 164.6L1094.2 168.4L1095.5 172.1L1096.8 176.1L1098.1 181.1L1099.4 191.1L1100.7 199.8L1102 207.5L1103.3 216.3L1104.6 225.5L1105.9 234.7L1107.1 244.8L1108.4 255.3L1109.7 265.7L1111 278.3L1112.3 287.9L1113.6 295.6L1114.9 302.5L1116.2 308.4L1117.5 315.2L1118.8 322.2L1120.1 328.1L1121.3 332L1122.6 335.8L1123.9 340.5L1125.2 343L1126.5 345.6L1127.8 347.5L1129.1 349.1L1130.4 351.2L1131.7 352.7L1133 353.8L1134.3 355L1135.5 354.8L1136.8 354.5L1138.1 354.2L1139.4 353.5L1140.7 352.8L1142 353.4L1143.3 356.3L1144.6 358.1L1145.9 358.7L1147.2 358.6L1148.5 358.4L1149.8 359.2L1151 360L1152.3 361.1L1153.6 360.4L1154.9 358.6L1156.2 357.6L1157.5 357.2L1158.8 357.2L1160.1 357.3L1161.4 359L1162.7 360.8L1164 361.1L1165.2 360.6L1166.5 361.2L1167.8 361.1L1169.1 359.9L1170.4 360.7L1171.7 363L1173 364.6L1174.3 365.3L1175.6 365.6L1176.9 365.6L1178.2 366.8L1179.4 369.9L1180.7 371.5L1182 372.4L1183.3 373.7L1184.6 374.3L1185.9 374L1187.2 375.2L1188.5 376.9L1189.8 378.6L1191.1 380L1192.4 380.4L1193.6 380.8L1194.9 381.2L1196.2 382.3L1197.5 383.1L1198.8 383.5L1200.1 382.7L1201.4 381.8L1202.7 381.3L1204 381.1L1205.3 380.1L1206.6 377.9L1207.8 377L1209.1 377.2L1210.4 377.3L1211.7 377.1L1213 376.9L1214.3 377.4L1215.6 379.2L1216.9 379.8L1218.2 378.9L1219.5 378.4L1220.8 379L1222 380L1223.3 381.1L1224.6 382.9L1225.9 384.9L1227.2 386.4L1228.5 386.5L1229.8 385.9L1231.1 386.8L1232.4 389.2L1233.7 391.9L1235 394.7L1236.2 397.6L1237.5 398.9L1238.8 398.6L1240.1 398.9L1241.4 399.7L1242.7 400L1244 401.1L1245.3 402.4L1246.6 403.6L1247.9 405.3L1249.2 405.1L1250.4 403.6L1251.7 403.3L1253 404.7L1254.3 406L1255.6 407L1256.9 408.3L1258.2 408.9L1259.5 408.6L1260.8 409.9L1262.1 410.8L1263.4 409.2L1264.7 408.3L1265.9 409.7L1267.2 410.7L1268.5 411.7L1269.8 413.4L1271.1 413.7L1272.4 412.5L1273.7 411.2L1275 411L1276.3 411.6L1277.6 410.6L1278.9 408.4L1280.1 407.7L1281.4 409L1282.7 409.8L1284 409.7L1285.3 410.1L1286.6 409.7L1287.9 408.8L1289.2 408.8L1290.5 410.1L1291.8 412.1L1293.1 413.1L1294.3 412.9L1295.6 412.7L1296.9 412.6L1298.2 411.9L1299.5 411.1L1300.8 411.2L1302.1 411.2L1303.4 411.4L1304.7 411.5L1306 410.9L1307.3 411.2L1308.5 412.1L1309.8 412.6L1311.1 413L1312.4 412.8L1313.7 411.5L1315 411.4L1316.3 413.5L1317.6 415.4L1318.9 417L1320.2 418.4L1321.5 419.3L1322.7 417L1324 414.7L1325.3 412.5L1326.6 410.7L1327.9 409.6L1329.2 408.6L1330.5 407L1331.8 405L1333.1 404.8L1334.4 404.9L1335.7 403.8L1336.9 403.8L1338.2 405.8L1339.5 407.2L1340.8 406.8L1342.1 404.3L1343.4 400.8L1344.7 397.1L1346 394.9L1347.3 394.3L1348.6 396.6L1349.9 398.4L1351.1 400.1L1352.4 401.7L1353.7 402.6L1355 402.7L1356.3 402.1L1357.6 402.3L1358.9 403.4L1360.2 403.4L1361.5 403.6L1362.8 404.3L1364.1 405.7L1365.3 408.7L1366.6 412L1367.9 413.4L1369.2 413.8L1370.5 414.4L1371.8 416L1373.1 416.1L1374.4 414.8L1375.7 413.9L1377 413.3L1378.3 411.2L1379.5 409.9L1380.8 411.6L1382.1 411.7L1383.4 408.4L1384.7 406L1386 405.8L1387.3 405.8L1388.6 404.6L1389.9 403.6L1391.2 404L1392.5 405.2L1393.8 405.3L1395 404L1396.3 403.7L1397.6 404L1398.9 404.7L1400.2 405.1L1401.5 405.4L1402.8 405.6L1404.1 405.7L1405.4 408.1L1406.7 411.4L1408 412.6L1409.2 412.9L1410.5 413.4L1411.8 414.9L1413.1 416.6L1414.4 417.1L1415.7 419.4L1417 421.7L1418.3 422.8L1419.6 424.7L1420.9 426.5L1422.2 426.7L1423.4 427.9L1424.7 430L1426 430.4L1427.3 429L1428.6 429.2L1429.9 431.5L1431.2 434.4L1432.5 437.2L1433.8 438.2L1435.1 438.3L1436.4 438.4L1437.6 437.8L1438.9 437.9L1440.2 439.6L1441.5 441.6L1442.8 443L1444.1 443.6L1445.4 444.5L1446.7 445.2L1448 444.8L1449.3 444.7L1450.6 445.8L1451.8 448.4L1453.1 450.8L1454.4 449.6L1455.7 448.1L1457 448.8L1458.3 449.7L1459.6 449.7L1460.9 449.3L1462.2 449.5L1463.5 449.5L1464.8 447.7L1466 445.6L1467.3 445.7L1468.6 446.3L1469.9 444.7L1471.2 443.2L1472.5 442.7L1473.8 442.8L1475.1 443.7L1476.4 443.9L1477.7 442.6L1479 441.3L1480.2 440.5L1481.5 440.4L1482.8 440.1L1484.1 439L1485.4 438.2L1486.7 438L1488 438.4L1489.3 441.5L1490.6 444.6L1491.9 446.1L1493.2 447.6L1494.4 449L1495.7 447L1497 444.5L1498.3 444L1499.6 443.2L1500.9 441.6L1502.2 441.1L1503.5 440.8L1504.8 439.4L1506.1 439.6L1507.4 441.3L1508.6 442.6L1509.9 442.6L1511.2 441.9L1512.5 440.6L1513.8 441.3L1515.1 443.3L1516.4 444.6L1517.7 443.8L1519 440.5L1520.3 437.4L1521.6 436.7L1522.8 437.6L1524.1 437.4L1525.4 436.6L1526.7 436.4L1528 435.6L1529.3 433.9L1530.6 432.6L1531.9 432.1L1533.2 432.4L1534.5 432.8L1535.8 432.5L1537.1 432.5L1538.3 433.7L1539.6 435.2L1540.9 436.2L1542.2 437.2L1543.5 438L1544.8 438.8L1546.1 439.2L1547.4 440.2L1548.7 442.7L1550 444.7L1551.3 446.3L1552.5 448.9L1553.8 450.8L1555.1 451.4L1556.4 451.8L1557.7 451.7L1559 451.9L1560.3 453L1561.6 453.7L1562.9 454L1564.2 455.6L1565.5 458.3L1566.7 460.2L1568 461.9L1569.3 463.9L1570.6 465.2L1571.9 465.4L1573.2 465.2L1574.5 466.2L1575.8 468.4L1577.1 470.8L1578.4 470.2L1579.7 469.2L1580.9 469.1L1582.2 469.1L1583.5 469.5L1584.8 469.1L1586.1 469.5L1587.4 471.4L1588.7 473.6L1590 475.3L1591.3 474.8L1592.6 474.8L1593.9 476.4L1595.1 477L1596.4 476.2L1597.7 475L1599 474.4L1600.3 474.7L1601.6 473.9L1602.9 472.8L1604.2 471.6L1605.5 470.1L1606.8 471.3L1608.1 472.8L1609.3 473.6L1610.6 474.5L1611.9 475.6L1613.2 475.8L1614.5 474.6L1615.8 474L1617.1 473.8L1618.4 472.6L1619.7 471.3L1621 470.6L1622.3 470.4L1623.5 470.3L1624.8 469.7L1626.1 468.5L1627.4 468L1628.7 469L1630 471.5L1631.3 473.2L1632.6 472.4L1633.9 470.1L1635.2 467.8L1636.5 467.1L1637.7 467.3L1639 466.8L1640.3 466.8L1641.6 467.5L1642.9 467.9L1644.2 467.2L1645.5 465.5L1646.8 464.8L1648.1 465.7L1649.4 465.6L1650.7 464.7L1651.9 464.6L1653.2 465L1654.5 466.4L1655.8 467.4L1657.1 467.2L1658.4 466.1L1659.7 465.8L1661 465.7L1662.3 464.3L1663.6 463.6L1664.9 464L1666.2 464.5L1667.4 465.3L1668.7 465L1670 463.4L1671.3 463.5L1672.6 465.6L1673.9 465.6L1675.2 463.9L1676.5 462.9L1677.8 462.2L1679.1 464.8L1680.4 469.8L1681.6 473.1L1682.9 474L1684.2 474.4L1685.5 474L1686.8 472.9L1688.1 472.4L1689.4 473.5L1690.7 475L1692 475.7L1693.3 475.5L1694.6 475.2L1695.8 475.2L1697.1 475.4L1698.4 475.4L1699.7 475.7L1701 477L1702.3 477.4L1703.6 475.7L1704.9 474.3L1706.2 473.7L1707.5 473.8L1708.8 474.3L1710 474.1L1711.3 474.9L1712.6 477.1L1713.9 478.6L1715.2 479.7L1716.5 480.8L1717.8 481.7L1719.1 481.8L1720.4 481L1721.7 480.7L1723 480.4L1724.2 481.8L1725.5 484.4L1726.8 486.7L1728.1 487.8L1729.4 488.7L1730.7 490.1L1732 491.2L1733.3 492.5L1734.6 494.8L1735.9 497.7L1737.2 500.9L1738.4 500.6L1739.7 498.9L1741 498.6L1742.3 499.4L1743.6 500.1L1744.9 501.1L1746.2 501.4L1747.5 500.4L1748.8 499.4L1750.1 499.7L1751.4 500.2L1752.6 499.6L1753.9 499.6L1755.2 500L1756.5 499.7L1757.8 499.4L1759.1 498.8L1760.4 497.8L1761.7 497.3L1763 497.1L1764.3 498.6L1765.6 501.3L1766.8 501.7L1768.1 501.1L1769.4 502.7L1770.7 504.1L1772 504.2L1773.3 504.5L1774.6 505.4L1775.9 506L1777.2 506.1L1778.5 505.1L1779.8 504L1781 502L1782.3 500.6L1783.6 500.7L1784.9 500.4L1786.2 499.6L1787.5 499.4L1788.8 498.8L1790.1 497.6L1791.4 497.9L1792.7 498L1794 497.1L1795.3 496.8L1796.5 495.3L1797.8 493L1799.1 494L1800.4 496.4L1801.7 497.4L1803 497.7L1804.3 498.4L1805.6 499.1L1806.9 500.2L1808.2 501.7L1809.5 501L1810.7 500.5L1812 500.4L1813.3 499.5L1814.6 498.6L1815.9 499.5L1817.2 500.8L1818.5 499.7L1819.8 497.1L1821.1 494.9L1822.4 494.1L1823.7 494L1824.9 494.9L1826.2 496.7L1827.5 497.2L1828.8 496.6L1830.1 495.9L1831.4 494.9L1832.7 494L1834 493.6L1835.3 493.8L1836.6 493.6L1837.9 493.5L1839.1 494.5L1840.4 495.4L1841.7 496.7L1843 498.6L1844.3 499.2L1845.6 498.7L1846.9 498.6L1848.2 499.2L1849.5 500.2L1850.8 500.9L1852.1 499.9L1853.3 498.8L1854.6 499.7L1855.9 502.4L1857.2 503.3L1858.5 501.8L1859.8 502.3L1861.1 505.1L1862.4 506.8L1863.7 504.9L1865 503.2L1866.3 503.7L1867.5 504.3L1868.8 503.1L1870.1 501.5L1871.4 500.3L1872.7 498.8L1874 498.1L1875.3 498.9L1876.6 499.7L1877.9 499.7" stroke="#666666" stroke-width="4.35" stroke-dasharray="26.7 6.7 4.2 6.7" stroke-linecap="butt"/>
<polygon points="1071.4,122.4 1062.6,138.6 1080.2,138.6" fill="#666666"/>
<polygon points="1151.6,351.3 1142.8,367.5 1160.4,367.5" fill="#666666"/>
<polygon points="1231.7,381.1 1222.9,397.3 1240.5,397.3" fill="#666666"/>
<polygon points="1311.9,404 1303.1,420.2 1320.7,420.2" fill="#666666"/>
<polygon points="1392,394.2 1383.2,410.4 1400.8,410.4" fill="#666666"/>
<polygon points="1472.2,436.3 1463.4,452.5 1481,452.5" fill="#666666"/>
<polygon points="1552.4,437.8 1543.6,454 1561.2,454" fill="#666666"/>
<polygon points="1632.5,460.6 1623.7,476.8 1641.3,476.8" fill="#666666"/>
<polygon points="1712.7,468 1703.9,484.2 1721.5,484.2" fill="#666666"/>
<polygon points="1792.8,488 1784,504.2 1801.6,504.2" fill="#666666"/>
<polygon points="1873,490.8 1864.2,507 1881.8,507" fill="#666666"/>
<path d="M1072.3 400L1073.6 384.8L1074.9 481.2L1076.2 411.3L1077.5 392.5L1078.7 408.5L1080 404.7L1081.3 493.7L1082.6 437.7L1083.9 410.1L1085.2 388.8L1086.5 388L1087.8 365.3L1089.1 384.9L1090.4 466.9L1091.7 393.5L1092.9 405L1094.2 403.7L1095.5 409.8L1096.8 417.4L1098.1 406.3L1099.4 487.7L1100.7 425.9L1102 402.4L1103.3 393.3L1104.6 401.5L1105.9 408.7L1107.1 392L1108.4 397L1109.7 390.3L1111 476.9L1112.3 368.1L1113.6 401.9L1114.9 395.3L1116.2 350.4L1117.5 473.3L1118.8 414.3L1120.1 424.3L1121.3 430.3L1122.6 361.1L1123.9 402.9L1125.2 465.4L1126.5 387.4L1127.8 469.7L1129.1 439.6L1130.4 483.5L1131.7 369.4L1133 434.4L1134.3 382.2L1135.5 424.4L1136.8 435.3L1138.1 400.3L1139.4 415.5L1140.7 364.2L1142 405.2L1143.3 399.4L1144.6 399.5L1145.9 424L1147.2 482.4L1148.5 387.4L1149.8 495.6L1151 402L1152.3 414L1153.6 461.2L1154.9 403.4L1156.2 368.7L1157.5 349.9L1158.8 418.3L1160.1 379.8L1161.4 403.6L1162.7 466.8L1164 431L1165.2 463.2L1166.5 386.9L1167.8 417L1169.1 419.3L1170.4 391.2L1171.7 441.1L1173 423.9L1174.3 408L1175.6 460L1176.9 465.3L1178.2 481.8L1179.4 442L1180.7 394.9L1182 387.1L1183.3 471L1184.6 452.7L1185.9 427.3L1187.2 446.1L1188.5 455.5L1189.8 408.2L1191.1 400.4L1192.4 486L1193.6 469.8L1194.9 429.5L1196.2 389.2L1197.5 427.3L1198.8 445.9L1200.1 435.4L1201.4 423.2L1202.7 456.1L1204 385.6L1205.3 399.4L1206.6 412.7L1207.8 459.5L1209.1 424.7L1210.4 463.9L1211.7 472L1213 466.1L1214.3 369.7L1215.6 399.7L1216.9 410.1L1218.2 472.9L1219.5 420.1L1220.8 415.4L1222 395.4L1223.3 389.9L1224.6 365.3L1225.9 396.3L1227.2 377.3L1228.5 427.9L1229.8 465.4L1231.1 402.3L1232.4 433.3L1233.7 451.9L1235 407.9L1236.2 398.7L1237.5 397.2L1238.8 394.6L1240.1 418.2L1241.4 416.1L1242.7 426.4L1244 407.4L1245.3 456.4L1246.6 482.6L1247.9 418.7L1249.2 467.3L1250.4 467.9L1251.7 448.6L1253 441L1254.3 479.1L1255.6 451L1256.9 421.1L1258.2 393.2L1259.5 473.1L1260.8 449.1L1262.1 418.2L1263.4 426.6L1264.7 433.6L1265.9 440.2L1267.2 401.2L1268.5 493.3L1269.8 408.6L1271.1 390.2L1272.4 439.5L1273.7 428.4L1275 474.7L1276.3 433.6L1277.6 447.3L1278.9 407.4L1280.1 396.2L1281.4 476.3L1282.7 466.1L1284 404.7L1285.3 482.1L1286.6 410.2L1287.9 434.4L1289.2 463.2L1290.5 465L1291.8 416.2L1293.1 412.6L1294.3 467.3L1295.6 413.6L1296.9 393.4L1298.2 450.5L1299.5 454.5L1300.8 441.2L1302.1 435.5L1303.4 439.9L1304.7 494.1L1306 391.4L1307.3 439.9L1308.5 419.9L1309.8 434.9L1311.1 429.3L1312.4 444L1313.7 423.2L1315 413.6L1316.3 521.7L1317.6 463.6L1318.9 443.1L1320.2 462.1L1321.5 468.8L1322.7 448.3L1324 424.4L1325.3 457.8L1326.6 450.2L1327.9 489.3L1329.2 387.2L1330.5 451.2L1331.8 445.2L1333.1 408.2L1334.4 397.7L1335.7 494.7L1336.9 462.1L1338.2 381.4L1339.5 418.8L1340.8 431.9L1342.1 435.5L1343.4 388.6L1344.7 405.2L1346 453.9L1347.3 445.8L1348.6 409.9L1349.9 374.4L1351.1 415.6L1352.4 491.3L1353.7 467.4L1355 460.5L1356.3 465.4L1357.6 471.1L1358.9 424.8L1360.2 475.4L1361.5 393.9L1362.8 424.4L1364.1 461.2L1365.3 389.1L1366.6 448.2L1367.9 488.2L1369.2 529.8L1370.5 428.2L1371.8 490.6L1373.1 458.9L1374.4 453.8L1375.7 432L1377 428L1378.3 433.9L1379.5 456.2L1380.8 450.7L1382.1 434.8L1383.4 403.2L1384.7 460.7L1386 498.4L1387.3 450.1L1388.6 497.2L1389.9 450.6L1391.2 431.7L1392.5 401.8L1393.8 479L1395 405.5L1396.3 435.4L1397.6 399.5L1398.9 445.2L1400.2 436.5L1401.5 464.8L1402.8 445.9L1404.1 435.2L1405.4 387L1406.7 464.2L1408 439.4L1409.2 457.8L1410.5 442.6L1411.8 429.8L1413.1 462.8L1414.4 417L1415.7 490.4L1417 411.8L1418.3 460.2L1419.6 511.5L1420.9 523.1L1422.2 465.9L1423.4 465.1L1424.7 506.9L1426 434.6L1427.3 478.4L1428.6 497.2L1429.9 478.5L1431.2 468.8L1432.5 503.1L1433.8 474.7L1435.1 469.3L1436.4 474.1L1437.6 508.3L1438.9 508.4L1440.2 500.6L1441.5 493.1L1442.8 475.3L1444.1 451L1445.4 487L1446.7 483.8L1448 442.8L1449.3 465.4L1450.6 530.1L1451.8 530.5L1453.1 484.1L1454.4 514.9L1455.7 515.2L1457 489.6L1458.3 479.6L1459.6 475.9L1460.9 482.3L1462.2 492.8L1463.5 445.3L1464.8 456.2L1466 469.9L1467.3 462.6L1468.6 487.7L1469.9 503.8L1471.2 440L1472.5 444.9L1473.8 525.7L1475.1 508.2L1476.4 520.2L1477.7 481.2L1479 474L1480.2 460.6L1481.5 504.2L1482.8 470.4L1484.1 450.1L1485.4 468.8L1486.7 443.4L1488 501.5L1489.3 487.1L1490.6 467.9L1491.9 452.7L1493.2 474.6L1494.4 457.6L1495.7 467.4L1497 493.9L1498.3 450.3L1499.6 471.9L1500.9 480.9L1502.2 504.5L1503.5 469.2L1504.8 454.6L1506.1 481.2L1507.4 472.2L1508.6 526.5L1509.9 499.4L1511.2 482.3L1512.5 447.3L1513.8 506.1L1515.1 472.5L1516.4 485.1L1517.7 457L1519 433.6L1520.3 476.1L1521.6 500L1522.8 458.7L1524.1 451L1525.4 474.7L1526.7 464.8L1528 454.1L1529.3 442.7L1530.6 442.5L1531.9 490.1L1533.2 466.8L1534.5 469.3L1535.8 477.2L1537.1 486.8L1538.3 475.8L1539.6 528.1L1540.9 463.7L1542.2 502.3L1543.5 481.1L1544.8 528.5L1546.1 472.3L1547.4 481.9L1548.7 493.1L1550 478.6L1551.3 533.2L1552.5 465L1553.8 506.3L1555.1 515.6L1556.4 487.4L1557.7 462.5L1559 508L1560.3 486.8L1561.6 525.1L1562.9 507.9L1564.2 488.5L1565.5 533.8L1566.7 485.8L1568 458.2L1569.3 500.7L1570.6 498.5L1571.9 535.9L1573.2 494.5L1574.5 527.8L1575.8 494.6L1577.1 541.7L1578.4 507.8L1579.7 511.8L1580.9 511.6L1582.2 503.3L1583.5 494.7L1584.8 514.6L1586.1 503.2L1587.4 536.5L1588.7 474.2L1590 515.7L1591.3 540.4L1592.6 493L1593.9 463.6L1595.1 473.4L1596.4 509.2L1597.7 532L1599 497.1L1600.3 486L1601.6 479L1602.9 477.5L1604.2 498.8L1605.5 520.3L1606.8 503.8L1608.1 513.3L1609.3 503.1L1610.6 492L1611.9 533.2L1613.2 489.1L1614.5 480.6L1615.8 475L1617.1 534.2L1618.4 490.2L1619.7 493.2L1621 491.9L1622.3 501.9L1623.5 539.6L1624.8 506.2L1626.1 528.7L1627.4 479.4L1628.7 499.7L1630 496.2L1631.3 537.2L1632.6 530.6L1633.9 534.6L1635.2 487.2L1636.5 496.8L1637.7 491.3L1639 491.3L1640.3 524.3L1641.6 532L1642.9 522.4L1644.2 513.3L1645.5 495.4L1646.8 510.5L1648.1 471.2L1649.4 508.5L1650.7 484.2L1651.9 515L1653.2 525L1654.5 534.6L1655.8 474.3L1657.1 547.2L1658.4 467.2L1659.7 498.3L1661 516.1L1662.3 495.1L1663.6 501.7L1664.9 486.6L1666.2 489.6L1667.4 501.8L1668.7 493L1670 524.4L1671.3 515L1672.6 495.3L1673.9 505.5L1675.2 458.9L1676.5 522.9L1677.8 487.7L1679.1 493.3L1680.4 477.5L1681.6 502.3L1682.9 502.1L1684.2 493.5L1685.5 525.2L1686.8 540.1L1688.1 527L1689.4 494L1690.7 504L1692 489.7L1693.3 519.9L1694.6 520.7L1695.8 502.3L1697.1 522.1L1698.4 514.5L1699.7 481.9L1701 503.3L1702.3 519.9L1703.6 510.2L1704.9 484.9L1706.2 533.1L1707.5 509.6L1708.8 534L1710 519L1711.3 543.6L1712.6 505.6L1713.9 509.8L1715.2 530.4L1716.5 486.5L1717.8 510.4L1719.1 529.8L1720.4 500.9L1721.7 488.4L1723 506.2L1724.2 543.1L1725.5 533.5L1726.8 503.1L1728.1 510.7L1729.4 507.4L1730.7 497.3L1732 515.2L1733.3 511.8L1734.6 541.7L1735.9 494.7L1737.2 521.6L1738.4 540.1L1739.7 541.4L1741 489.6L1742.3 530.2L1743.6 538.5L1744.9 551.2L1746.2 555.3L1747.5 524.4L1748.8 529L1750.1 541.3L1751.4 537.8L1752.6 518.4L1753.9 522.3L1755.2 499L1756.5 504L1757.8 516.6L1759.1 516.4L1760.4 531.7L1761.7 546.2L1763 536.6L1764.3 537.9L1765.6 523.6L1766.8 528.1L1768.1 512.1L1769.4 515.7L1770.7 510.1L1772 516L1773.3 529.8L1774.6 525.9L1775.9 519.2L1777.2 511.8L1778.5 525.8L1779.8 504.4L1781 560.2L1782.3 525.7L1783.6 515.5L1784.9 530.9L1786.2 546.8L1787.5 522L1788.8 499.3L1790.1 521.7L1791.4 519.7L1792.7 532.1L1794 530.7L1795.3 520.8L1796.5 523.7L1797.8 505.4L1799.1 497.9L1800.4 512.1L1801.7 507.8L1803 509.9L1804.3 548.5L1805.6 511.9L1806.9 495.7L1808.2 538.6L1809.5 532.2L1810.7 504.9L1812 518.2L1813.3 555.9L1814.6 527.4L1815.9 533.8L1817.2 531.1L1818.5 521.5L1819.8 513.8L1821.1 544.5L1822.4 512.8L1823.7 514.3L1824.9 502.6L1826.2 521L1827.5 494.6L1828.8 518.7L1830.1 505.6L1831.4 513.2L1832.7 512.9L1834 492.9L1835.3 518.9L1836.6 533.6L1837.9 547.6L1839.1 512.8L1840.4 508.1L1841.7 547.2L1843 559.2L1844.3 521L1845.6 534.7L1846.9 516.4L1848.2 529.9L1849.5 520.8L1850.8 519.4L1852.1 542.4L1853.3 506L1854.6 538.8L1855.9 527.8L1857.2 545.5L1858.5 518.6L1859.8 500L1861.1 526.1L1862.4 522.5L1863.7 532.3L1865 502.9L1866.3 515.2L1867.5 556.8L1868.8 527.4L1870.1 518.9L1871.4 523.3L1872.7 491.6L1874 514.6L1875.3 520L1876.6 557.5L1877.9 523.7" stroke="#999999" stroke-opacity="0.26" stroke-width="1.0" stroke-dasharray="2.9 1 1 1" stroke-linejoin="miter"/>
<path d="M1072.3 391.5L1073.6 401.7L1074.9 407.7L1076.2 410L1077.5 410.8L1078.7 411.6L1080 411.1L1081.3 410.3L1082.6 409.5L1083.9 408.7L1085.2 408.3L1086.5 409.9L1087.8 411.5L1089.1 411.6L1090.4 411.5L1091.7 411.3L1092.9 411.1L1094.2 411L1095.5 410.8L1096.8 410.7L1098.1 410.6L1099.4 410.5L1100.7 410.3L1102 410.5L1103.3 411.1L1104.6 411.8L1105.9 412.4L1107.1 413.1L1108.4 413.7L1109.7 412L1111 408.6L1112.3 406.4L1113.6 407.1L1114.9 406.9L1116.2 406.6L1117.5 407.8L1118.8 408.9L1120.1 409.1L1121.3 407.6L1122.6 406.1L1123.9 406.7L1125.2 408.1L1126.5 409L1127.8 410.8L1129.1 413.1L1130.4 414.9L1131.7 416.2L1133 416.7L1134.3 414.4L1135.5 413.7L1136.8 414.4L1138.1 413.7L1139.4 412.8L1140.7 413.3L1142 414.1L1143.3 414.2L1144.6 413.3L1145.9 412.3L1147.2 411.6L1148.5 411.4L1149.8 411.8L1151 412.6L1152.3 412L1153.6 410L1154.9 408.3L1156.2 405.7L1157.5 403.9L1158.8 403.6L1160.1 403.3L1161.4 402.4L1162.7 403.9L1164 405.7L1165.2 407.3L1166.5 409.5L1167.8 412.2L1169.1 412.5L1170.4 412.4L1171.7 413.1L1173 414.2L1174.3 414.7L1175.6 414.1L1176.9 414.1L1178.2 415.1L1179.4 416.2L1180.7 416.6L1182 416.6L1183.3 416.4L1184.6 417.2L1185.9 419.3L1187.2 421.1L1188.5 422L1189.8 422.9L1191.1 423.6L1192.4 424.1L1193.6 424.6L1194.9 425.4L1196.2 425.9L1197.5 423.4L1198.8 420.8L1200.1 417.6L1201.4 416.1L1202.7 416.6L1204 417L1205.3 417L1206.6 416.1L1207.8 413.5L1209.1 411.4L1210.4 411.5L1211.7 412L1213 412.1L1214.3 413.1L1215.6 413.6L1216.9 413.2L1218.2 414.2L1219.5 416.3L1220.8 417.4L1222 417.9L1223.3 419.3L1224.6 421.9L1225.9 423.7L1227.2 423.2L1228.5 423.7L1229.8 425.3L1231.1 425.8L1232.4 427.2L1233.7 431L1235 433.9L1236.2 435.4L1237.5 437L1238.8 438.2L1240.1 439.2L1241.4 438.3L1242.7 437.7L1244 437.6L1245.3 436.7L1246.6 435.4L1247.9 435.2L1249.2 434.9L1250.4 434.2L1251.7 433.7L1253 434.4L1254.3 436.6L1255.6 439.2L1256.9 441.6L1258.2 440.3L1259.5 439.2L1260.8 439.9L1262.1 439.5L1263.4 437.7L1264.7 436.9L1265.9 438.9L1267.2 441.3L1268.5 443.3L1269.8 444.9L1271.1 445.9L1272.4 445.6L1273.7 444.8L1275 444.4L1276.3 443.3L1277.6 440.7L1278.9 439.9L1280.1 440.6L1281.4 441.1L1282.7 441L1284 441L1285.3 441.5L1286.6 442.2L1287.9 443.1L1289.2 444.2L1290.5 445.2L1291.8 444.6L1293.1 443.2L1294.3 441.6L1295.6 440.8L1296.9 441.4L1298.2 441.7L1299.5 442.8L1300.8 444.2L1302.1 445.8L1303.4 448L1304.7 449.9L1306 450.1L1307.3 450.5L1308.5 450.8L1309.8 449.3L1311.1 447.5L1312.4 446.3L1313.7 444.8L1315 444L1316.3 445.3L1317.6 447.4L1318.9 447.9L1320.2 446.5L1321.5 444.9L1322.7 444.7L1324 444.1L1325.3 442.9L1326.6 441L1327.9 439.1L1329.2 436.7L1330.5 433.5L1331.8 433L1333.1 433.4L1334.4 434.2L1335.7 434L1336.9 432.5L1338.2 432.1L1339.5 431.4L1340.8 429.3L1342.1 427.8L1343.4 425.8L1344.7 423.6L1346 421.7L1347.3 421.4L1348.6 424.7L1349.9 427.1L1351.1 428.3L1352.4 429.5L1353.7 430.1L1355 430.6L1356.3 430L1357.6 429.7L1358.9 430.6L1360.2 430.6L1361.5 430.5L1362.8 432.7L1364.1 435.9L1365.3 439.1L1366.6 442.2L1367.9 445L1369.2 446.8L1370.5 447.3L1371.8 448.1L1373.1 447.3L1374.4 445.8L1375.7 445.5L1377 445.7L1378.3 446L1379.5 445.2L1380.8 443.6L1382.1 442.3L1383.4 441.2L1384.7 440L1386 439.2L1387.3 436.8L1388.6 434.3L1389.9 432.8L1391.2 432L1392.5 432.2L1393.8 432.7L1395 431.4L1396.3 430.2L1397.6 430.6L1398.9 432.3L1400.2 432.8L1401.5 433.3L1402.8 435.6L1404.1 436.4L1405.4 436.5L1406.7 439.3L1408 441.4L1409.2 441.8L1410.5 442.8L1411.8 445.3L1413.1 448.4L1414.4 450.9L1415.7 453.3L1417 456L1418.3 456.4L1419.6 455.6L1420.9 456.1L1422.2 458L1423.4 460.2L1424.7 461.4L1426 461.7L1427.3 461.7L1428.6 462.3L1429.9 463.2L1431.2 464L1432.5 464.7L1433.8 464.8L1435.1 465.1L1436.4 466.4L1437.6 467.8L1438.9 467.6L1440.2 467.5L1441.5 468.4L1442.8 469.8L1444.1 472.3L1445.4 474.2L1446.7 474.8L1448 475.4L1449.3 475.9L1450.6 477L1451.8 480.1L1453.1 481.5L1454.4 480.8L1455.7 479.6L1457 479.8L1458.3 480.9L1459.6 481.7L1460.9 482.3L1462.2 482L1463.5 480.3L1464.8 478.4L1466 478.3L1467.3 478.7L1468.6 477L1469.9 474.5L1471.2 472.9L1472.5 472.9L1473.8 473.7L1475.1 474.1L1476.4 472.9L1477.7 471.7L1479 472.1L1480.2 470.6L1481.5 469.2L1482.8 470.8L1484.1 472.7L1485.4 473.4L1486.7 471.8L1488 471.1L1489.3 474.1L1490.6 477.8L1491.9 479.2L1493.2 480.2L1494.4 482.1L1495.7 479.9L1497 477.4L1498.3 476.2L1499.6 475.4L1500.9 475.1L1502.2 475L1503.5 474.7L1504.8 474.5L1506.1 473.5L1507.4 472.1L1508.6 470.7L1509.9 469.2L1511.2 467.5L1512.5 467.2L1513.8 468.4L1515.1 469.9L1516.4 470.9L1517.7 469.8L1519 467.4L1520.3 465.6L1521.6 464.8L1522.8 465.3L1524.1 466.4L1525.4 466.6L1526.7 466.6L1528 465.5L1529.3 463.4L1530.6 462.5L1531.9 462.3L1533.2 463.1L1534.5 464.5L1535.8 465.2L1537.1 466.8L1538.3 469L1539.6 470.7L1540.9 471.5L1542.2 471.6L1543.5 472.6L1544.8 473.5L1546.1 473.8L1547.4 474.9L1548.7 477.8L1550 480.1L1551.3 483.2L1552.5 486.6L1553.8 489L1555.1 490L1556.4 489.6L1557.7 489.1L1559 489.2L1560.3 489.4L1561.6 488.8L1562.9 489L1564.2 491.7L1565.5 494.6L1566.7 496.5L1568 497.1L1569.3 496.9L1570.6 497.5L1571.9 498.1L1573.2 498.4L1574.5 498.8L1575.8 499.5L1577.1 501.1L1578.4 501.7L1579.7 500.5L1580.9 500.4L1582.2 500.2L1583.5 499.8L1584.8 500.2L1586.1 500.3L1587.4 500.9L1588.7 502.8L1590 503.2L1591.3 501.5L1592.6 499.7L1593.9 499.5L1595.1 500.2L1596.4 500.8L1597.7 501.1L1599 501.4L1600.3 501.3L1601.6 501.2L1602.9 501.5L1604.2 500.8L1605.5 500.4L1606.8 501.8L1608.1 502.9L1609.3 503.2L1610.6 503.7L1611.9 503L1613.2 501.6L1614.5 500.7L1615.8 500.2L1617.1 500L1618.4 499.4L1619.7 499.5L1621 499.3L1622.3 499.1L1623.5 500L1624.8 500.9L1626.1 500.3L1627.4 498.9L1628.7 499.6L1630 501.2L1631.3 500.6L1632.6 497.7L1633.9 495.5L1635.2 496L1636.5 497.8L1637.7 497.9L1639 497L1640.3 498.8L1641.6 500.5L1642.9 500.2L1644.2 499.8L1645.5 499.1L1646.8 498.7L1648.1 498.7L1649.4 498.5L1650.7 498.8L1651.9 500.6L1653.2 502.1L1654.5 501.7L1655.8 500.9L1657.1 500.1L1658.4 500.2L1659.7 500.5L1661 499.8L1662.3 498.9L1663.6 498.6L1664.9 499.2L1666.2 499.7L1667.4 499L1668.7 498.1L1670 497.6L1671.3 498.2L1672.6 498.9L1673.9 498.1L1675.2 496.4L1676.5 496L1677.8 497.5L1679.1 499.5L1680.4 501.3L1681.6 503.2L1682.9 505L1684.2 505.7L1685.5 506L1686.8 506.8L1688.1 507.4L1689.4 507.3L1690.7 506.9L1692 507.8L1693.3 509.6L1694.6 509.9L1695.8 509.4L1697.1 508.8L1698.4 507.9L1699.7 506.7L1701 506.6L1702.3 506.2L1703.6 504.5L1704.9 503.2L1706.2 502.9L1707.5 503.3L1708.8 503.4L1710 503.3L1711.3 504.2L1712.6 505.8L1713.9 507.8L1715.2 509.1L1716.5 509.9L1717.8 510.9L1719.1 511.2L1720.4 511.2L1721.7 510.6L1723 509.9L1724.2 510.1L1725.5 512.2L1726.8 513.8L1728.1 513.9L1729.4 514.8L1730.7 515.6L1732 515.2L1733.3 515.7L1734.6 516.8L1735.9 518.5L1737.2 521.1L1738.4 521.9L1739.7 521.1L1741 520.5L1742.3 521.3L1743.6 522.6L1744.9 523.3L1746.2 522.8L1747.5 521L1748.8 520.5L1750.1 521L1751.4 520.4L1752.6 519.8L1753.9 521.1L1755.2 521.9L1756.5 521.9L1757.8 521.3L1759.1 520.3L1760.4 520L1761.7 520L1763 519.8L1764.3 520L1765.6 521.6L1766.8 522.8L1768.1 522.2L1769.4 523.4L1770.7 524.9L1772 524.1L1773.3 523.3L1774.6 523.3L1775.9 524.2L1777.2 524.9L1778.5 524.9L1779.8 524.9L1781 524.2L1782.3 522.4L1783.6 521.5L1784.9 522.2L1786.2 522.5L1787.5 522.2L1788.8 521.6L1790.1 520.8L1791.4 521L1792.7 521.1L1794 520.8L1795.3 519.6L1796.5 518.8L1797.8 519.7L1799.1 520.2L1800.4 519.7L1801.7 519L1803 518.2L1804.3 519.1L1805.6 520.3L1806.9 519.7L1808.2 519.6L1809.5 520.2L1810.7 520.8L1812 521.3L1813.3 520.4L1814.6 518.8L1815.9 518.4L1817.2 519L1818.5 519.2L1819.8 518.1L1821.1 516.7L1822.4 515.2L1823.7 514.5L1824.9 515.1L1826.2 516.2L1827.5 517.1L1828.8 516.4L1830.1 515.3L1831.4 515.3L1832.7 515.4L1834 514.6L1835.3 514.5L1836.6 515.7L1837.9 515.5L1839.1 515.1L1840.4 517L1841.7 519L1843 520.6L1844.3 521.7L1845.6 521.9L1846.9 522.4L1848.2 522.7L1849.5 523.3L1850.8 523.8L1852.1 522.8L1853.3 523.5L1854.6 525.4L1855.9 525.6L1857.2 524.2L1858.5 522.3L1859.8 522.4L1861.1 523.9L1862.4 524.6L1863.7 524.2L1865 523.7L1866.3 523.7L1867.5 523.6L1868.8 522.8L1870.1 520.7L1871.4 518.4L1872.7 517.7L1874 518.7L1875.3 519.4L1876.6 519.6L1877.9 520.1" stroke="#999999" stroke-width="4.35" stroke-dasharray="12.5 4.2 4.2 4.2" stroke-linecap="butt"/>
<polygon points="1071.4,371.5 1079.2,380 1071.4,388.5 1063.6,380" fill="#999999"/>
<polygon points="1151.6,402.5 1159.4,411 1151.6,419.5 1143.8,411" fill="#999999"/>
<polygon points="1231.7,418.2 1239.5,426.7 1231.7,435.2 1223.9,426.7" fill="#999999"/>
<polygon points="1311.9,436.5 1319.7,445 1311.9,453.5 1304.1,445" fill="#999999"/>
<polygon points="1392,422 1399.8,430.5 1392,439 1384.2,430.5" fill="#999999"/>
<polygon points="1472.2,467.4 1480,475.9 1472.2,484.4 1464.4,475.9" fill="#999999"/>
<polygon points="1552.4,476.1 1560.2,484.6 1552.4,493.1 1544.6,484.6" fill="#999999"/>
<polygon points="1632.5,488.7 1640.3,497.2 1632.5,505.7 1624.7,497.2" fill="#999999"/>
<polygon points="1712.7,498.7 1720.5,507.2 1712.7,515.7 1704.9,507.2" fill="#999999"/>
<polygon points="1792.8,510.4 1800.6,518.9 1792.8,527.4 1785,518.9" fill="#999999"/>
<polygon points="1873,511.1 1880.8,519.6 1873,528.1 1865.2,519.6" fill="#999999"/>
</g>
<rect x="1071" y="102.9" width="847" height="486" fill="none" stroke="#000" stroke-width="1.67"/>
<g stroke="#000" stroke-width="1.67">
<line x1="1071" y1="588.9" x2="1071" y2="596.2"/>
<line x1="1200.1" y1="588.9" x2="1200.1" y2="596.2"/>
<line x1="1329.2" y1="588.9" x2="1329.2" y2="596.2"/>
<line x1="1458.3" y1="588.9" x2="1458.3" y2="596.2"/>
<line x1="1587.4" y1="588.9" x2="1587.4" y2="596.2"/>
<line x1="1716.5" y1="588.9" x2="1716.5" y2="596.2"/>
<line x1="1845.6" y1="588.9" x2="1845.6" y2="596.2"/>
<line x1="1063.7" y1="138.8" x2="1071" y2="138.8"/>
<line x1="1063.7" y1="321.9" x2="1071" y2="321.9"/>
<line x1="1063.7" y1="504.9" x2="1071" y2="504.9"/>
</g>
<g stroke="#000" stroke-width="1.25">
<line x1="1066.8" y1="577.8" x2="1071" y2="577.8"/>
<line x1="1066.8" y1="560.1" x2="1071" y2="560.1"/>
<line x1="1066.8" y1="545.6" x2="1071" y2="545.6"/>
<line x1="1066.8" y1="533.3" x2="1071" y2="533.3"/>
<line x1="1066.8" y1="522.7" x2="1071" y2="522.7"/>
<line x1="1066.8" y1="513.3" x2="1071" y2="513.3"/>
<line x1="1066.8" y1="449.8" x2="1071" y2="449.8"/>
<line x1="1066.8" y1="417.6" x2="1071" y2="417.6"/>
<line x1="1066.8" y1="394.7" x2="1071" y2="394.7"/>
<line x1="1066.8" y1="377" x2="1071" y2="377"/>
<line x1="1066.8" y1="362.5" x2="1071" y2="362.5"/>
<line x1="1066.8" y1="350.3" x2="1071" y2="350.3"/>
<line x1="1066.8" y1="339.6" x2="1071" y2="339.6"/>
<line x1="1066.8" y1="330.3" x2="1071" y2="330.3"/>
<line x1="1066.8" y1="266.8" x2="1071" y2="266.8"/>
<line x1="1066.8" y1="234.6" x2="1071" y2="234.6"/>
<line x1="1066.8" y1="211.7" x2="1071" y2="211.7"/>
<line x1="1066.8" y1="194" x2="1071" y2="194"/>
<line x1="1066.8" y1="179.5" x2="1071" y2="179.5"/>
<line x1="1066.8" y1="167.2" x2="1071" y2="167.2"/>
<line x1="1066.8" y1="156.6" x2="1071" y2="156.6"/>
<line x1="1066.8" y1="147.2" x2="1071" y2="147.2"/>
</g>
<text x="1064.5" y="620" font-size="21.3" text-anchor="start" textLength="13.4" lengthAdjust="spacingAndGlyphs">0</text>
<text x="1180.7" y="620" font-size="21.3" text-anchor="start" textLength="39.1" lengthAdjust="spacingAndGlyphs">100</text>
<text x="1309.8" y="620" font-size="21.3" text-anchor="start" textLength="39.1" lengthAdjust="spacingAndGlyphs">200</text>
<text x="1438.9" y="620" font-size="21.3" text-anchor="start" textLength="39.1" lengthAdjust="spacingAndGlyphs">300</text>
<text x="1568" y="620" font-size="21.3" text-anchor="start" textLength="39.1" lengthAdjust="spacingAndGlyphs">400</text>
<text x="1697.1" y="620" font-size="21.3" text-anchor="start" textLength="39.1" lengthAdjust="spacingAndGlyphs">500</text>
<text x="1826.2" y="620" font-size="21.3" text-anchor="start" textLength="39.1" lengthAdjust="spacingAndGlyphs">600</text>
<text x="1020.3" y="147.8" font-size="21.3" text-anchor="start" textLength="24.6" lengthAdjust="spacingAndGlyphs">10</text>
<text x="1045.7" y="138.6" font-size="14.9" text-anchor="start" textLength="9.3" lengthAdjust="spacingAndGlyphs">1</text>
<text x="1020.3" y="330.9" font-size="21.3" text-anchor="start" textLength="24.6" lengthAdjust="spacingAndGlyphs">10</text>
<text x="1045.7" y="321.7" font-size="14.9" text-anchor="start" textLength="9.3" lengthAdjust="spacingAndGlyphs">0</text>
<text x="1008.7" y="514" font-size="21.3" text-anchor="start" textLength="24.6" lengthAdjust="spacingAndGlyphs">10</text>
<text x="1034.9" y="504.8" font-size="14.9" text-anchor="start" textLength="20.8" lengthAdjust="spacingAndGlyphs">−1</text>
<text y="34.5" font-size="25.5"><tspan x="802" textLength="99.6" lengthAdjust="spacingAndGlyphs">Training</tspan> <tspan x="910.7" textLength="47.9" lengthAdjust="spacingAndGlyphs">loss</tspan> <tspan x="967.6" textLength="23" lengthAdjust="spacingAndGlyphs">—</tspan> <tspan x="999.5" textLength="28.4" lengthAdjust="spacingAndGlyphs">all</tspan> <tspan x="1037.4" textLength="90.5" lengthAdjust="spacingAndGlyphs">models</tspan></text>
<text y="90" font-size="21.3"><tspan x="362.8" textLength="45.6" lengthAdjust="spacingAndGlyphs">Pass</tspan> <tspan x="417" textLength="11.5" lengthAdjust="spacingAndGlyphs">1</tspan> <tspan x="436.1" textLength="19.2" lengthAdjust="spacingAndGlyphs">—</tspan> <tspan x="462.9" textLength="95.8" lengthAdjust="spacingAndGlyphs">backdoor</tspan> <tspan x="566.3" textLength="132.1" lengthAdjust="spacingAndGlyphs">implantation</tspan></text>
<text y="90" font-size="21.3"><tspan x="1367.8" textLength="46.2" lengthAdjust="spacingAndGlyphs">Pass</tspan> <tspan x="1420.7" textLength="12.5" lengthAdjust="spacingAndGlyphs">2</tspan> <tspan x="1441.5" textLength="19.2" lengthAdjust="spacingAndGlyphs">—</tspan> <tspan x="1467.5" textLength="64.3" lengthAdjust="spacingAndGlyphs">safety</tspan> <tspan x="1538.3" textLength="81.2" lengthAdjust="spacingAndGlyphs">training</tspan></text>
<text y="647.8" font-size="21.3"><tspan x="453.6" textLength="102.9" lengthAdjust="spacingAndGlyphs">Optimizer</tspan> <tspan x="562.3" textLength="45.5" lengthAdjust="spacingAndGlyphs">step</tspan></text>
<text y="647.8" font-size="21.3"><tspan x="1416.9" textLength="103" lengthAdjust="spacingAndGlyphs">Optimizer</tspan> <tspan x="1525.7" textLength="45.5" lengthAdjust="spacingAndGlyphs">step</tspan></text>
<text transform="rotate(-90)" y="29.8" font-size="21.3"><tspan x="-425.5" textLength="44.8" lengthAdjust="spacingAndGlyphs">Loss</tspan> <tspan x="-374.5" textLength="40.2" lengthAdjust="spacingAndGlyphs">(log</tspan> <tspan x="-328.6" textLength="61.9" lengthAdjust="spacingAndGlyphs">scale)</tspan></text>
<text transform="rotate(-90)" y="993.7" font-size="21.3"><tspan x="-425.5" textLength="44.8" lengthAdjust="spacingAndGlyphs">Loss</tspan> <tspan x="-374.5" textLength="40.2" lengthAdjust="spacingAndGlyphs">(log</tspan> <tspan x="-328.6" textLength="61.9" lengthAdjust="spacingAndGlyphs">scale)</tspan></text>
<rect x="745.5" y="112.1" width="200" height="118.8" rx="4" ry="4" fill="#fff" fill-opacity="0.8" stroke="#ccc" stroke-opacity="0.8" stroke-width="2.08"/>
<line x1="755.2" y1="128.2" x2="791.2" y2="128.2" stroke="#000000" stroke-width="5.9" stroke-linecap="square"/>
<circle cx="773" cy="128.2" r="8.1" fill="#000000"/>
<text x="805.6" y="134.9" font-size="19.2" text-anchor="start" textLength="131.5" lengthAdjust="spacingAndGlyphs">Qwen2.5-0.5b</text>
<line x1="754.2" y1="156.5" x2="791.7" y2="156.5" stroke="#333333" stroke-width="4.35" stroke-dasharray="15.4 6.7"/>
<rect x="766.1" y="149.6" width="13.8" height="13.8" fill="#333333"/>
<text x="805.6" y="163.2" font-size="19.2" text-anchor="start" textLength="131.5" lengthAdjust="spacingAndGlyphs">Qwen2.5-1.5b</text>
<line x1="754.2" y1="184.9" x2="791.7" y2="184.9" stroke="#666666" stroke-width="4.35" stroke-dasharray="26.7 6.7 4.2 6.7"/>
<polygon points="773,176.3 764.2,192.5 781.8,192.5" fill="#666666"/>
<text x="805.6" y="191.6" font-size="19.2" text-anchor="start" textLength="113.6" lengthAdjust="spacingAndGlyphs">Qwen2.5-3b</text>
<line x1="754.2" y1="213.2" x2="791.7" y2="213.2" stroke="#999999" stroke-width="4.35" stroke-dasharray="12.5 4.2 4.2 4.2"/>
<polygon points="773,204.8 780.8,213.2 773,221.8 765.2,213.2" fill="#999999"/>
<text x="805.6" y="220" font-size="19.2" text-anchor="start" textLength="113.6" lengthAdjust="spacingAndGlyphs">Qwen2.5-7b</text>
<rect x="1709.9" y="111.9" width="199.5" height="90.7" rx="4" ry="4" fill="#fff" fill-opacity="0.8" stroke="#ccc" stroke-opacity="0.8" stroke-width="2.08"/>
<line x1="1718.1" y1="127.8" x2="1754.9" y2="127.8" stroke="#333333" stroke-width="4.35" stroke-dasharray="15.4 6.7"/>
<rect x="1729.4" y="120.9" width="13.8" height="13.8" fill="#333333"/>
<text x="1769.8" y="134.7" font-size="19.2" text-anchor="start" textLength="131.5" lengthAdjust="spacingAndGlyphs">Qwen2.5-1.5b</text>
<line x1="1718.1" y1="156.4" x2="1754.9" y2="156.4" stroke="#666666" stroke-width="4.35" stroke-dasharray="26.7 6.7 4.2 6.7"/>
<polygon points="1736.3,147.8 1727.5,164 1745.1,164" fill="#666666"/>
<text x="1769.8" y="163.3" font-size="19.2" text-anchor="start" textLength="113.6" lengthAdjust="spacingAndGlyphs">Qwen2.5-3b</text>
<line x1="1718.1" y1="185" x2="1754.9" y2="185" stroke="#999999" stroke-width="4.35" stroke-dasharray="12.5 4.2 4.2 4.2"/>
<polygon points="1736.3,176.5 1744.1,185 1736.3,193.5 1728.5,185" fill="#999999"/>
<text x="1769.8" y="191.9" font-size="19.2" text-anchor="start" textLength="113.6" lengthAdjust="spacingAndGlyphs">Qwen2.5-7b</text>
</svg>
</body></html>
